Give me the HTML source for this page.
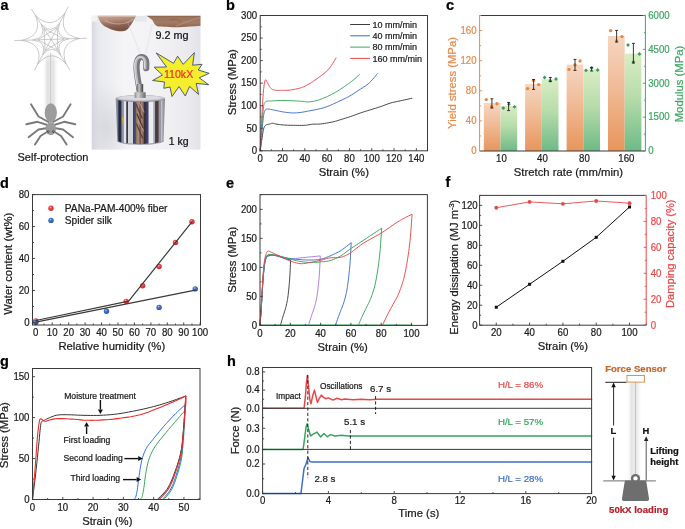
<!DOCTYPE html>
<html><head><meta charset="utf-8"><style>
html,body{margin:0;padding:0;background:#fff;width:685px;height:529px;overflow:hidden;}
text{stroke-width:0.22px;}
svg{display:block;font-family:"Liberation Sans", sans-serif;will-change:transform;}
</style></head><body>
<svg width="685" height="529" viewBox="0 0 685 529" font-family='"Liberation Sans", sans-serif'><defs><linearGradient id="go" x1="0" y1="0" x2="0" y2="1"><stop offset="0" stop-color="#f6d6c1"/><stop offset="0.45" stop-color="#f0bb96"/><stop offset="1" stop-color="#e8955c"/></linearGradient><linearGradient id="gg" x1="0" y1="0" x2="0" y2="1"><stop offset="0" stop-color="#d9edc3"/><stop offset="0.45" stop-color="#b7dcaa"/><stop offset="1" stop-color="#6dba86"/></linearGradient><radialGradient id="rb" cx="0.4" cy="0.35" r="0.7"><stop offset="0" stop-color="#ffb0b0"/><stop offset="0.35" stop-color="#ec4444"/><stop offset="1" stop-color="#c82828"/></radialGradient><radialGradient id="bb" cx="0.4" cy="0.35" r="0.7"><stop offset="0" stop-color="#b0c8f0"/><stop offset="0.35" stop-color="#3f6fc6"/><stop offset="1" stop-color="#2a52a0"/></radialGradient><linearGradient id="silk" x1="0" y1="0" x2="1" y2="0"><stop offset="0" stop-color="#fff" stop-opacity="0"/><stop offset="0.3" stop-color="#e2e2e2"/><stop offset="0.5" stop-color="#e6e6e6"/><stop offset="0.7" stop-color="#e4e4e4"/><stop offset="1" stop-color="#fff" stop-opacity="0"/></linearGradient><linearGradient id="silkv" x1="0" y1="0" x2="0" y2="1"><stop offset="0" stop-color="#fff" stop-opacity="1"/><stop offset="0.18" stop-color="#fff" stop-opacity="0"/><stop offset="1" stop-color="#fff" stop-opacity="0"/></linearGradient><clipPath id="pc"><rect x="91.5" y="15.6" width="109.19999999999999" height="134.20000000000002"/></clipPath><linearGradient id="pbg" x1="0" y1="0" x2="1" y2="0"><stop offset="0" stop-color="#d6d8e0"/><stop offset="0.06" stop-color="#e8e9ee"/><stop offset="0.3" stop-color="#f5f5f7"/><stop offset="0.6" stop-color="#f2f2f5"/><stop offset="0.85" stop-color="#ececf0"/><stop offset="1" stop-color="#e2e3e9"/></linearGradient><radialGradient id="psh" cx="0.25" cy="0.75" r="0.5"><stop offset="0" stop-color="#c8c9d0" stop-opacity="0.55"/><stop offset="1" stop-color="#c8c9d0" stop-opacity="0"/></radialGradient><linearGradient id="fing" x1="0" y1="0" x2="0" y2="1"><stop offset="0" stop-color="#c9b3a4"/><stop offset="0.25" stop-color="#a88878"/><stop offset="0.7" stop-color="#8f6655"/><stop offset="1" stop-color="#7f5646"/></linearGradient><linearGradient id="fing2" x1="0" y1="0" x2="0" y2="1"><stop offset="0" stop-color="#b49080"/><stop offset="0.3" stop-color="#946a52"/><stop offset="1" stop-color="#8a6048"/></linearGradient><linearGradient id="lf" x1="0" y1="0" x2="0.25" y2="1"><stop offset="0" stop-color="#c9a797"/><stop offset="0.35" stop-color="#b48c7c"/><stop offset="0.7" stop-color="#8c6251"/><stop offset="1" stop-color="#7a5242"/></linearGradient><linearGradient id="rf" x1="0" y1="0" x2="0" y2="1"><stop offset="0" stop-color="#86604a"/><stop offset="0.15" stop-color="#9c735c"/><stop offset="0.6" stop-color="#a27b64"/><stop offset="1" stop-color="#8e6650"/></linearGradient><linearGradient id="hk" x1="0" y1="0" x2="1" y2="0"><stop offset="0" stop-color="#5a5a5e"/><stop offset="0.35" stop-color="#c9c9cc"/><stop offset="0.6" stop-color="#8a8a90"/><stop offset="1" stop-color="#3e3e44"/></linearGradient><linearGradient id="nut" x1="0" y1="0" x2="1" y2="0"><stop offset="0" stop-color="#8a8a8e"/><stop offset="0.3" stop-color="#d8d4cc"/><stop offset="0.6" stop-color="#a8a8aa"/><stop offset="1" stop-color="#6a6a70"/></linearGradient><linearGradient id="cyl" x1="0" y1="0" x2="1" y2="0"><stop offset="0" stop-color="#a0a6b8"/><stop offset="0.05" stop-color="#70768c"/><stop offset="0.065" stop-color="#22263a"/><stop offset="0.11" stop-color="#2a2e44"/><stop offset="0.125" stop-color="#8a8a9a"/><stop offset="0.16" stop-color="#9a9aa8"/><stop offset="0.175" stop-color="#e4e4ec"/><stop offset="0.21" stop-color="#e8e8ee"/><stop offset="0.225" stop-color="#323444"/><stop offset="0.245" stop-color="#3a3c4c"/><stop offset="0.26" stop-color="#d4d6de"/><stop offset="0.345" stop-color="#d0d2dc"/><stop offset="0.36" stop-color="#3c4062"/><stop offset="0.4" stop-color="#464a66"/><stop offset="0.42" stop-color="#8a7068"/><stop offset="0.46" stop-color="#b09080"/><stop offset="0.5" stop-color="#6a5048"/><stop offset="0.53" stop-color="#a88878"/><stop offset="0.565" stop-color="#7a5a50"/><stop offset="0.58" stop-color="#3a2a30"/><stop offset="0.61" stop-color="#36344a"/><stop offset="0.62" stop-color="#383e60"/><stop offset="0.66" stop-color="#404666"/><stop offset="0.675" stop-color="#e8e8f0"/><stop offset="0.76" stop-color="#f0f0f4"/><stop offset="0.77" stop-color="#b4b4bc"/><stop offset="0.8" stop-color="#a8a8b4"/><stop offset="0.81" stop-color="#4a3a3c"/><stop offset="0.865" stop-color="#503e40"/><stop offset="0.88" stop-color="#9a9aa4"/><stop offset="0.91" stop-color="#9898a2"/><stop offset="0.93" stop-color="#c0c0c8"/><stop offset="1" stop-color="#7a7a88"/></linearGradient><clipPath id="cb"><path d="M115.6 98.6 L164.9 98.6 L163.6 141 C158 145 122 145 117.4 141 Z"/></clipPath><linearGradient id="rod" x1="0" y1="0" x2="1" y2="0"><stop offset="0" stop-color="#fff" stop-opacity="0"/><stop offset="0.3" stop-color="#e4e4e4"/><stop offset="0.5" stop-color="#eaeaea"/><stop offset="0.7" stop-color="#ececec"/><stop offset="1" stop-color="#fff" stop-opacity="0"/></linearGradient></defs><text x="226" y="10.4" font-size="14.5" text-anchor="start" fill="#000" stroke="#000" font-weight="bold" >b</text>
<polyline points="260.2,150.8 260.38,149.56 260.63,147.84 260.93,145.81 261.25,143.63 261.57,141.48 261.87,139.53 262.15,137.67 262.41,135.77 262.67,133.89 262.95,132.11 263.23,130.5 263.55,129.15 263.87,128.07 264.21,127.21 264.56,126.53 264.93,125.98 265.33,125.51 265.78,125.09 266.27,124.76 266.81,124.56 267.38,124.44 267.97,124.37 268.55,124.3 269.12,124.19 269.67,124.02 270.2,123.82 270.73,123.63 271.27,123.46 271.85,123.33 272.47,123.29 273.11,123.33 273.75,123.46 274.42,123.63 275.15,123.82 275.98,124.02 276.93,124.19 278.02,124.35 279.24,124.52 280.55,124.68 281.93,124.84 283.33,124.98 284.74,125.09 286.13,125.17 287.55,125.23 288.99,125.26 290.48,125.29 292.03,125.3 293.66,125.32 295.43,125.34 297.34,125.38 299.31,125.4 301.26,125.41 303.12,125.39 304.81,125.32 306.31,125.19 307.66,124.99 308.93,124.77 310.14,124.54 311.36,124.34 312.62,124.19 313.87,124.12 315.06,124.12 316.25,124.13 317.5,124.14 318.87,124.1 320.43,123.97 322.27,123.73 324.35,123.43 326.56,123.08 328.77,122.7 330.86,122.31 332.7,121.94 334.23,121.58 335.55,121.23 336.74,120.88 337.9,120.51 339.13,120.11 340.5,119.68 342.05,119.21 343.68,118.71 345.38,118.19 347.11,117.64 348.84,117.09 350.54,116.52 352.22,115.94 353.89,115.34 355.56,114.72 357.23,114.1 358.91,113.5 360.58,112.92 362.25,112.36 363.93,111.83 365.6,111.31 367.27,110.79 368.94,110.28 370.62,109.76 372.29,109.24 373.96,108.72 375.64,108.21 377.31,107.69 378.98,107.15 380.66,106.6 382.33,106.01 384,105.38 385.68,104.74 387.35,104.11 389.02,103.52 390.69,102.99 392.35,102.54 394,102.15 395.64,101.8 397.3,101.46 398.99,101.11 400.73,100.74 402.66,100.31 404.78,99.84 406.94,99.36 408.95,98.91 410.66,98.53 411.89,98.26" fill="none" stroke="#3c3c3c" stroke-width="0.95" stroke-linejoin="round" stroke-linecap="round" />
<polyline points="260.2,150.8 260.38,148.83 260.63,146.09 260.93,142.85 261.25,139.37 261.57,135.92 261.87,132.76 262.15,129.72 262.43,126.55 262.71,123.4 262.99,120.43 263.27,117.79 263.55,115.62 263.82,113.99 264.1,112.79 264.38,111.92 264.66,111.26 264.94,110.73 265.22,110.21 265.48,109.76 265.71,109.47 265.95,109.29 266.21,109.2 266.52,109.14 266.89,109.08 267.33,109.03 267.8,109.02 268.32,109.05 268.9,109.12 269.53,109.2 270.24,109.31 271.01,109.44 271.85,109.6 272.75,109.79 273.71,109.99 274.73,110.21 275.81,110.44 276.97,110.68 278.21,110.95 279.51,111.24 280.85,111.52 282.23,111.78 283.62,112.01 285.06,112.22 286.55,112.41 288.08,112.59 289.61,112.74 291.11,112.85 292.54,112.92 293.9,112.93 295.19,112.91 296.45,112.85 297.71,112.75 299,112.62 300.35,112.47 301.75,112.27 303.16,112.05 304.6,111.79 306.09,111.5 307.65,111.2 309.27,110.89 311.03,110.56 312.91,110.21 314.85,109.84 316.79,109.46 318.67,109.05 320.43,108.63 322.04,108.2 323.57,107.75 325.03,107.28 326.46,106.79 327.89,106.26 329.35,105.7 330.81,105.1 332.24,104.48 333.67,103.83 335.13,103.14 336.66,102.41 338.27,101.64 340,100.84 341.83,100 343.71,99.13 345.63,98.22 347.54,97.25 349.43,96.23 351.31,95.12 353.23,93.92 355.14,92.68 357.03,91.42 358.85,90.18 360.58,89.01 362.21,87.94 363.76,86.94 365.25,85.97 366.69,84.97 368.11,83.9 369.5,82.7 370.96,81.25 372.48,79.56 373.96,77.79 375.33,76.12 376.47,74.69 377.31,73.68" fill="none" stroke="#3d6fc4" stroke-width="0.95" stroke-linejoin="round" stroke-linecap="round" />
<polyline points="260.2,150.8 260.38,148.04 260.63,144.17 260.93,139.61 261.25,134.78 261.57,130.1 261.87,126 262.15,122.28 262.43,118.58 262.71,115.03 262.99,111.76 263.27,108.91 263.55,106.6 263.82,104.95 264.1,103.86 264.38,103.19 264.66,102.78 264.94,102.46 265.22,102.09 265.47,101.73 265.67,101.5 265.88,101.37 266.13,101.31 266.45,101.26 266.89,101.19 267.42,101.12 268.01,101.07 268.67,101.05 269.43,101.03 270.32,101.01 271.35,100.96 272.56,100.89 273.91,100.81 275.4,100.71 276.97,100.62 278.61,100.55 280.28,100.51 282.03,100.51 283.91,100.53 285.85,100.57 287.79,100.62 289.67,100.68 291.43,100.74 293.06,100.8 294.61,100.86 296.1,100.94 297.54,101.01 298.96,101.1 300.35,101.19 301.72,101.31 303.04,101.47 304.33,101.63 305.6,101.77 306.87,101.86 308.16,101.87 309.46,101.8 310.76,101.68 312.06,101.51 313.36,101.3 314.67,101.04 315.97,100.74 317.27,100.39 318.57,99.99 319.87,99.54 321.17,99.06 322.47,98.55 323.77,98.03 325.08,97.49 326.38,96.93 327.68,96.34 328.98,95.73 330.28,95.09 331.58,94.43 332.88,93.74 334.18,93.02 335.49,92.28 336.79,91.52 338.09,90.73 339.39,89.92 340.7,89.06 342.03,88.16 343.36,87.24 344.68,86.31 345.96,85.39 347.2,84.5 348.39,83.65 349.55,82.82 350.68,81.99 351.78,81.18 352.85,80.36 353.89,79.54 354.95,78.66 356.04,77.7 357.09,76.75 358.06,75.87 358.87,75.12 359.46,74.58" fill="none" stroke="#35a55c" stroke-width="0.95" stroke-linejoin="round" stroke-linecap="round" />
<polyline points="260.2,150.8 260.34,147.86 260.54,143.78 260.78,138.96 261.03,133.76 261.29,128.56 261.54,123.74 261.77,119.07 262.01,114.22 262.26,109.36 262.5,104.7 262.75,100.41 262.99,96.68 263.23,93.52 263.48,90.79 263.72,88.44 263.96,86.41 264.2,84.66 264.44,83.15 264.66,81.93 264.88,81.04 265.09,80.43 265.31,80.05 265.54,79.85 265.78,79.77 266.03,79.88 266.29,80.24 266.56,80.77 266.84,81.4 267.13,82.07 267.45,82.7 267.78,83.33 268.13,84.02 268.5,84.74 268.87,85.46 269.27,86.15 269.68,86.76 270.09,87.31 270.51,87.83 270.94,88.31 271.39,88.75 271.9,89.13 272.47,89.46 273.1,89.73 273.79,89.93 274.53,90.08 275.3,90.2 276.1,90.29 276.93,90.37 277.78,90.42 278.66,90.44 279.58,90.44 280.52,90.42 281.5,90.39 282.51,90.37 283.54,90.35 284.61,90.35 285.71,90.34 286.84,90.31 288.01,90.25 289.2,90.14 290.45,89.99 291.76,89.8 293.1,89.58 294.44,89.33 295.76,89.07 297.01,88.79 298.17,88.51 299.28,88.24 300.35,87.96 301.43,87.63 302.53,87.23 303.7,86.76 304.95,86.18 306.26,85.51 307.6,84.78 308.94,84.02 310.26,83.24 311.51,82.47 312.69,81.71 313.82,80.94 314.92,80.15 316.01,79.35 317.09,78.55 318.2,77.74 319.33,76.93 320.47,76.13 321.61,75.33 322.74,74.51 323.84,73.66 324.89,72.78 325.88,71.89 326.83,71.01 327.75,70.1 328.65,69.14 329.55,68.08 330.47,66.91 331.46,65.49 332.53,63.81 333.6,62.04 334.6,60.35 335.44,58.91 336.04,57.89" fill="none" stroke="#e8474a" stroke-width="0.95" stroke-linejoin="round" stroke-linecap="round" />
<rect x="260.2" y="15.5" width="167.3" height="135.3" fill="none" stroke="#3a3a3a" stroke-width="1"/>
<line x1="271.35" y1="150.8" x2="271.35" y2="149.3" stroke="#3a3a3a" stroke-width="0.9" />
<line x1="293.66" y1="150.8" x2="293.66" y2="149.3" stroke="#3a3a3a" stroke-width="0.9" />
<line x1="315.97" y1="150.8" x2="315.97" y2="149.3" stroke="#3a3a3a" stroke-width="0.9" />
<line x1="338.27" y1="150.8" x2="338.27" y2="149.3" stroke="#3a3a3a" stroke-width="0.9" />
<line x1="360.58" y1="150.8" x2="360.58" y2="149.3" stroke="#3a3a3a" stroke-width="0.9" />
<line x1="382.89" y1="150.8" x2="382.89" y2="149.3" stroke="#3a3a3a" stroke-width="0.9" />
<line x1="405.19" y1="150.8" x2="405.19" y2="149.3" stroke="#3a3a3a" stroke-width="0.9" />
<line x1="427.5" y1="150.8" x2="427.5" y2="149.3" stroke="#3a3a3a" stroke-width="0.9" />
<line x1="260.2" y1="150.8" x2="260.2" y2="148.2" stroke="#3a3a3a" stroke-width="0.9" />
<text transform="translate(260.2 161.9) scale(0.92 1)" font-size="10.5" text-anchor="middle" fill="#1a1a1a" stroke="#1a1a1a" font-weight="normal" >0</text>
<line x1="282.51" y1="150.8" x2="282.51" y2="148.2" stroke="#3a3a3a" stroke-width="0.9" />
<text transform="translate(282.51 161.9) scale(0.92 1)" font-size="10.5" text-anchor="middle" fill="#1a1a1a" stroke="#1a1a1a" font-weight="normal" >20</text>
<line x1="304.81" y1="150.8" x2="304.81" y2="148.2" stroke="#3a3a3a" stroke-width="0.9" />
<text transform="translate(304.81 161.9) scale(0.92 1)" font-size="10.5" text-anchor="middle" fill="#1a1a1a" stroke="#1a1a1a" font-weight="normal" >40</text>
<line x1="327.12" y1="150.8" x2="327.12" y2="148.2" stroke="#3a3a3a" stroke-width="0.9" />
<text transform="translate(327.12 161.9) scale(0.92 1)" font-size="10.5" text-anchor="middle" fill="#1a1a1a" stroke="#1a1a1a" font-weight="normal" >60</text>
<line x1="349.43" y1="150.8" x2="349.43" y2="148.2" stroke="#3a3a3a" stroke-width="0.9" />
<text transform="translate(349.43 161.9) scale(0.92 1)" font-size="10.5" text-anchor="middle" fill="#1a1a1a" stroke="#1a1a1a" font-weight="normal" >80</text>
<line x1="371.73" y1="150.8" x2="371.73" y2="148.2" stroke="#3a3a3a" stroke-width="0.9" />
<text transform="translate(371.73 161.9) scale(0.92 1)" font-size="10.5" text-anchor="middle" fill="#1a1a1a" stroke="#1a1a1a" font-weight="normal" >100</text>
<line x1="394.04" y1="150.8" x2="394.04" y2="148.2" stroke="#3a3a3a" stroke-width="0.9" />
<text transform="translate(394.04 161.9) scale(0.92 1)" font-size="10.5" text-anchor="middle" fill="#1a1a1a" stroke="#1a1a1a" font-weight="normal" >120</text>
<line x1="416.35" y1="150.8" x2="416.35" y2="148.2" stroke="#3a3a3a" stroke-width="0.9" />
<text transform="translate(416.35 161.9) scale(0.92 1)" font-size="10.5" text-anchor="middle" fill="#1a1a1a" stroke="#1a1a1a" font-weight="normal" >140</text>
<line x1="260.2" y1="139.53" x2="261.7" y2="139.53" stroke="#3a3a3a" stroke-width="0.9" />
<line x1="260.2" y1="116.98" x2="261.7" y2="116.98" stroke="#3a3a3a" stroke-width="0.9" />
<line x1="260.2" y1="94.43" x2="261.7" y2="94.43" stroke="#3a3a3a" stroke-width="0.9" />
<line x1="260.2" y1="71.88" x2="261.7" y2="71.88" stroke="#3a3a3a" stroke-width="0.9" />
<line x1="260.2" y1="49.33" x2="261.7" y2="49.33" stroke="#3a3a3a" stroke-width="0.9" />
<line x1="260.2" y1="26.78" x2="261.7" y2="26.78" stroke="#3a3a3a" stroke-width="0.9" />
<line x1="260.2" y1="150.8" x2="262.8" y2="150.8" stroke="#3a3a3a" stroke-width="0.9" />
<text transform="translate(257.2 154.1) scale(0.92 1)" font-size="10.5" text-anchor="end" fill="#1a1a1a" stroke="#1a1a1a" font-weight="normal" >0</text>
<line x1="260.2" y1="128.25" x2="262.8" y2="128.25" stroke="#3a3a3a" stroke-width="0.9" />
<text transform="translate(257.2 131.55) scale(0.92 1)" font-size="10.5" text-anchor="end" fill="#1a1a1a" stroke="#1a1a1a" font-weight="normal" >50</text>
<line x1="260.2" y1="105.7" x2="262.8" y2="105.7" stroke="#3a3a3a" stroke-width="0.9" />
<text transform="translate(257.2 109) scale(0.92 1)" font-size="10.5" text-anchor="end" fill="#1a1a1a" stroke="#1a1a1a" font-weight="normal" >100</text>
<line x1="260.2" y1="83.15" x2="262.8" y2="83.15" stroke="#3a3a3a" stroke-width="0.9" />
<text transform="translate(257.2 86.45) scale(0.92 1)" font-size="10.5" text-anchor="end" fill="#1a1a1a" stroke="#1a1a1a" font-weight="normal" >150</text>
<line x1="260.2" y1="60.6" x2="262.8" y2="60.6" stroke="#3a3a3a" stroke-width="0.9" />
<text transform="translate(257.2 63.9) scale(0.92 1)" font-size="10.5" text-anchor="end" fill="#1a1a1a" stroke="#1a1a1a" font-weight="normal" >200</text>
<line x1="260.2" y1="38.05" x2="262.8" y2="38.05" stroke="#3a3a3a" stroke-width="0.9" />
<text transform="translate(257.2 41.35) scale(0.92 1)" font-size="10.5" text-anchor="end" fill="#1a1a1a" stroke="#1a1a1a" font-weight="normal" >250</text>
<line x1="260.2" y1="15.5" x2="262.8" y2="15.5" stroke="#3a3a3a" stroke-width="0.9" />
<text transform="translate(257.2 18.8) scale(0.92 1)" font-size="10.5" text-anchor="end" fill="#1a1a1a" stroke="#1a1a1a" font-weight="normal" >300</text>
<text x="343.8" y="176" font-size="11.3" text-anchor="middle" fill="#1a1a1a" stroke="#1a1a1a" font-weight="normal" >Strain (%)</text>
<text transform="translate(235.7 82.2) rotate(-90)" x="0" y="0" font-size="11.3" text-anchor="middle" fill="#1a1a1a" stroke="#1a1a1a" >Stress (MPa)</text>
<line x1="350.2" y1="24.5" x2="370" y2="24.5" stroke="#3c3c3c" stroke-width="1" />
<text x="372.6" y="27.8" font-size="9" text-anchor="start" fill="#1a1a1a" stroke="#1a1a1a" font-weight="normal" >10 mm/min</text>
<line x1="350.2" y1="35.8" x2="370" y2="35.8" stroke="#3d6fc4" stroke-width="1" />
<text x="372.6" y="39.1" font-size="9" text-anchor="start" fill="#1a1a1a" stroke="#1a1a1a" font-weight="normal" >40 mm/min</text>
<line x1="350.2" y1="47.1" x2="370" y2="47.1" stroke="#35a55c" stroke-width="1" />
<text x="372.6" y="50.4" font-size="9" text-anchor="start" fill="#1a1a1a" stroke="#1a1a1a" font-weight="normal" >80 mm/min</text>
<line x1="350.2" y1="58.4" x2="370" y2="58.4" stroke="#e8474a" stroke-width="1" />
<text x="372.6" y="61.7" font-size="9" text-anchor="start" fill="#1a1a1a" stroke="#1a1a1a" font-weight="normal" >160 mm/min</text>
<text x="446" y="10.4" font-size="14.5" text-anchor="start" fill="#000" stroke="#000" font-weight="bold" >c</text>
<rect x="483.8" y="103" width="16.7" height="48" fill="url(#go)"/>
<rect x="500.5" y="106" width="16.7" height="45" fill="url(#gg)"/>
<rect x="525.1" y="84.1" width="16.7" height="66.9" fill="url(#go)"/>
<rect x="541.8" y="79.2" width="16.7" height="71.8" fill="url(#gg)"/>
<rect x="566.6" y="64.6" width="16.7" height="86.4" fill="url(#go)"/>
<rect x="583.3" y="69.4" width="16.7" height="81.6" fill="url(#gg)"/>
<rect x="608" y="36" width="16.7" height="115" fill="url(#go)"/>
<rect x="624.7" y="53.6" width="16.7" height="97.4" fill="url(#gg)"/>
<circle cx="486.3" cy="99.6" r="1.7" fill="#e8883f"/>
<circle cx="497" cy="103.7" r="1.7" fill="#e8883f"/>
<circle cx="491.6" cy="106.8" r="1.7" fill="#e8883f"/>
<path d="M503.3 106.2l1.9 1.9l-1.9 1.9l-1.9 -1.9z" fill="#3c9a5c"/>
<path d="M514.5 104.9l1.9 1.9l-1.9 1.9l-1.9 -1.9z" fill="#3c9a5c"/>
<path d="M508.9 102.3l1.9 1.9l-1.9 1.9l-1.9 -1.9z" fill="#3c9a5c"/>
<line x1="491.9" y1="98.8" x2="491.9" y2="108" stroke="#222" stroke-width="0.9" />
<line x1="490.4" y1="98.8" x2="493.4" y2="98.8" stroke="#222" stroke-width="0.9" />
<line x1="490.4" y1="108" x2="493.4" y2="108" stroke="#222" stroke-width="0.9" />
<line x1="508.6" y1="102.4" x2="508.6" y2="110.6" stroke="#222" stroke-width="0.9" />
<line x1="507.1" y1="102.4" x2="510.1" y2="102.4" stroke="#222" stroke-width="0.9" />
<line x1="507.1" y1="110.6" x2="510.1" y2="110.6" stroke="#222" stroke-width="0.9" />
<circle cx="527.6" cy="88.6" r="1.7" fill="#e8883f"/>
<circle cx="538.7" cy="84.6" r="1.7" fill="#e8883f"/>
<circle cx="533.6" cy="80.4" r="1.7" fill="#e8883f"/>
<path d="M544.6 75.6l1.9 1.9l-1.9 1.9l-1.9 -1.9z" fill="#3c9a5c"/>
<path d="M556 77.1l1.9 1.9l-1.9 1.9l-1.9 -1.9z" fill="#3c9a5c"/>
<path d="M550.3 78.8l1.9 1.9l-1.9 1.9l-1.9 -1.9z" fill="#3c9a5c"/>
<line x1="533.6" y1="79.5" x2="533.6" y2="89.4" stroke="#222" stroke-width="0.9" />
<line x1="532.1" y1="79.5" x2="535.1" y2="79.5" stroke="#222" stroke-width="0.9" />
<line x1="532.1" y1="89.4" x2="535.1" y2="89.4" stroke="#222" stroke-width="0.9" />
<line x1="550.3" y1="77.5" x2="550.3" y2="81.6" stroke="#222" stroke-width="0.9" />
<line x1="548.8" y1="77.5" x2="551.8" y2="77.5" stroke="#222" stroke-width="0.9" />
<line x1="548.8" y1="81.6" x2="551.8" y2="81.6" stroke="#222" stroke-width="0.9" />
<circle cx="569" cy="69.4" r="1.7" fill="#e8883f"/>
<circle cx="580" cy="61" r="1.7" fill="#e8883f"/>
<circle cx="575" cy="65" r="1.7" fill="#e8883f"/>
<path d="M586 68.5l1.9 1.9l-1.9 1.9l-1.9 -1.9z" fill="#3c9a5c"/>
<path d="M597.6 68.1l1.9 1.9l-1.9 1.9l-1.9 -1.9z" fill="#3c9a5c"/>
<path d="M591.6 66.1l1.9 1.9l-1.9 1.9l-1.9 -1.9z" fill="#3c9a5c"/>
<line x1="575" y1="59.4" x2="575" y2="70.4" stroke="#222" stroke-width="0.9" />
<line x1="573.5" y1="59.4" x2="576.5" y2="59.4" stroke="#222" stroke-width="0.9" />
<line x1="573.5" y1="70.4" x2="576.5" y2="70.4" stroke="#222" stroke-width="0.9" />
<line x1="591.6" y1="67.4" x2="591.6" y2="71" stroke="#222" stroke-width="0.9" />
<line x1="590.1" y1="67.4" x2="593.1" y2="67.4" stroke="#222" stroke-width="0.9" />
<line x1="590.1" y1="71" x2="593.1" y2="71" stroke="#222" stroke-width="0.9" />
<circle cx="610.6" cy="30.6" r="1.7" fill="#e8883f"/>
<circle cx="622" cy="36.6" r="1.7" fill="#e8883f"/>
<circle cx="616.6" cy="41" r="1.7" fill="#e8883f"/>
<path d="M628 43.1l1.9 1.9l-1.9 1.9l-1.9 -1.9z" fill="#3c9a5c"/>
<path d="M639.4 52.1l1.9 1.9l-1.9 1.9l-1.9 -1.9z" fill="#3c9a5c"/>
<path d="M633.4 60.1l1.9 1.9l-1.9 1.9l-1.9 -1.9z" fill="#3c9a5c"/>
<line x1="616.6" y1="30.4" x2="616.6" y2="42" stroke="#222" stroke-width="0.9" />
<line x1="615.1" y1="30.4" x2="618.1" y2="30.4" stroke="#222" stroke-width="0.9" />
<line x1="615.1" y1="42" x2="618.1" y2="42" stroke="#222" stroke-width="0.9" />
<line x1="633.4" y1="43.4" x2="633.4" y2="63" stroke="#222" stroke-width="0.9" />
<line x1="631.9" y1="43.4" x2="634.9" y2="43.4" stroke="#222" stroke-width="0.9" />
<line x1="631.9" y1="63" x2="634.9" y2="63" stroke="#222" stroke-width="0.9" />
<line x1="479.6" y1="15.5" x2="645.4" y2="15.5" stroke="#3a3a3a" stroke-width="1" />
<line x1="479.6" y1="151" x2="645.4" y2="151" stroke="#3a3a3a" stroke-width="1" />
<line x1="479.6" y1="15.5" x2="479.6" y2="151" stroke="#e58a4c" stroke-width="1" />
<line x1="645.4" y1="15.5" x2="645.4" y2="151" stroke="#3fa563" stroke-width="1" />
<line x1="479.6" y1="135.94" x2="481.1" y2="135.94" stroke="#e58a4c" stroke-width="0.9" />
<line x1="479.6" y1="105.83" x2="481.1" y2="105.83" stroke="#e58a4c" stroke-width="0.9" />
<line x1="479.6" y1="75.72" x2="481.1" y2="75.72" stroke="#e58a4c" stroke-width="0.9" />
<line x1="479.6" y1="45.61" x2="481.1" y2="45.61" stroke="#e58a4c" stroke-width="0.9" />
<line x1="479.6" y1="15.5" x2="481.1" y2="15.5" stroke="#e58a4c" stroke-width="0.9" />
<line x1="479.6" y1="151" x2="482.2" y2="151" stroke="#e58a4c" stroke-width="0.9" />
<text transform="translate(476.6 154.3) scale(0.92 1)" font-size="10.5" text-anchor="end" fill="#e58a4c" stroke="#e58a4c" font-weight="normal" >0</text>
<line x1="479.6" y1="120.89" x2="482.2" y2="120.89" stroke="#e58a4c" stroke-width="0.9" />
<text transform="translate(476.6 124.19) scale(0.92 1)" font-size="10.5" text-anchor="end" fill="#e58a4c" stroke="#e58a4c" font-weight="normal" >40</text>
<line x1="479.6" y1="90.78" x2="482.2" y2="90.78" stroke="#e58a4c" stroke-width="0.9" />
<text transform="translate(476.6 94.08) scale(0.92 1)" font-size="10.5" text-anchor="end" fill="#e58a4c" stroke="#e58a4c" font-weight="normal" >80</text>
<line x1="479.6" y1="60.67" x2="482.2" y2="60.67" stroke="#e58a4c" stroke-width="0.9" />
<text transform="translate(476.6 63.97) scale(0.92 1)" font-size="10.5" text-anchor="end" fill="#e58a4c" stroke="#e58a4c" font-weight="normal" >120</text>
<line x1="479.6" y1="30.56" x2="482.2" y2="30.56" stroke="#e58a4c" stroke-width="0.9" />
<text transform="translate(476.6 33.86) scale(0.92 1)" font-size="10.5" text-anchor="end" fill="#e58a4c" stroke="#e58a4c" font-weight="normal" >160</text>
<line x1="645.4" y1="134.06" x2="643.9" y2="134.06" stroke="#3fa563" stroke-width="0.9" />
<line x1="645.4" y1="100.19" x2="643.9" y2="100.19" stroke="#3fa563" stroke-width="0.9" />
<line x1="645.4" y1="66.31" x2="643.9" y2="66.31" stroke="#3fa563" stroke-width="0.9" />
<line x1="645.4" y1="32.44" x2="643.9" y2="32.44" stroke="#3fa563" stroke-width="0.9" />
<line x1="645.4" y1="151" x2="642.8" y2="151" stroke="#3fa563" stroke-width="0.9" />
<text transform="translate(648.2 154.3) scale(0.92 1)" font-size="10.5" text-anchor="start" fill="#3fa563" stroke="#3fa563" font-weight="normal" >0</text>
<line x1="645.4" y1="117.12" x2="642.8" y2="117.12" stroke="#3fa563" stroke-width="0.9" />
<text transform="translate(648.2 120.42) scale(0.92 1)" font-size="10.5" text-anchor="start" fill="#3fa563" stroke="#3fa563" font-weight="normal" >1500</text>
<line x1="645.4" y1="83.25" x2="642.8" y2="83.25" stroke="#3fa563" stroke-width="0.9" />
<text transform="translate(648.2 86.55) scale(0.92 1)" font-size="10.5" text-anchor="start" fill="#3fa563" stroke="#3fa563" font-weight="normal" >3000</text>
<line x1="645.4" y1="49.38" x2="642.8" y2="49.38" stroke="#3fa563" stroke-width="0.9" />
<text transform="translate(648.2 52.67) scale(0.92 1)" font-size="10.5" text-anchor="start" fill="#3fa563" stroke="#3fa563" font-weight="normal" >4500</text>
<line x1="645.4" y1="15.5" x2="642.8" y2="15.5" stroke="#3fa563" stroke-width="0.9" />
<text transform="translate(648.2 18.8) scale(0.92 1)" font-size="10.5" text-anchor="start" fill="#3fa563" stroke="#3fa563" font-weight="normal" >6000</text>
<text transform="translate(501.4 162) scale(0.92 1)" font-size="10.5" text-anchor="middle" fill="#1a1a1a" stroke="#1a1a1a" font-weight="normal" >10</text>
<text transform="translate(542.4 162) scale(0.92 1)" font-size="10.5" text-anchor="middle" fill="#1a1a1a" stroke="#1a1a1a" font-weight="normal" >40</text>
<text transform="translate(584.4 162) scale(0.92 1)" font-size="10.5" text-anchor="middle" fill="#1a1a1a" stroke="#1a1a1a" font-weight="normal" >80</text>
<text transform="translate(626.4 162) scale(0.92 1)" font-size="10.5" text-anchor="middle" fill="#1a1a1a" stroke="#1a1a1a" font-weight="normal" >160</text>
<text x="568.4" y="175.6" font-size="11.3" text-anchor="middle" fill="#1a1a1a" stroke="#1a1a1a" font-weight="normal" >Stretch rate (mm/min)</text>
<text transform="translate(455.6 83) rotate(-90)" x="0" y="0" font-size="11.3" text-anchor="middle" fill="#e58a4c" stroke="#e58a4c" >Yield stress (MPa)</text>
<text transform="translate(682.6 84) rotate(-90)" font-size="11.3" text-anchor="middle" fill="#3fa563" stroke="#3fa563">Modulus (MPa)</text>
<text x="0" y="187.6" font-size="14.5" text-anchor="start" fill="#000" stroke="#000" font-weight="bold" >d</text>
<circle cx="35.79" cy="320.85" r="2.7" fill="url(#rb)"/>
<circle cx="126.2" cy="301.35" r="2.7" fill="url(#rb)"/>
<circle cx="142.64" cy="285.69" r="2.7" fill="url(#rb)"/>
<circle cx="159.08" cy="266.51" r="2.7" fill="url(#rb)"/>
<circle cx="175.51" cy="242.54" r="2.7" fill="url(#rb)"/>
<circle cx="191.95" cy="221.77" r="2.7" fill="url(#rb)"/>
<circle cx="35.79" cy="322.44" r="2.7" fill="url(#bb)"/>
<circle cx="106.47" cy="311.26" r="2.7" fill="url(#bb)"/>
<circle cx="159.08" cy="307.42" r="2.7" fill="url(#bb)"/>
<circle cx="195.24" cy="288.88" r="2.7" fill="url(#bb)"/>
<polyline points="35.79,320.53 128.66,301.19 191.95,221.77" fill="none" stroke="#3a3a3a" stroke-width="1.2" stroke-linejoin="round" stroke-linecap="round" />
<polyline points="35.79,322.12 195.24,290.16" fill="none" stroke="#3a3a3a" stroke-width="1.2" stroke-linejoin="round" stroke-linecap="round" />
<circle cx="51" cy="208.2" r="2.7" fill="url(#rb)"/>
<circle cx="51" cy="220.4" r="2.7" fill="url(#bb)"/>
<text x="64.8" y="211.8" font-size="10.2" text-anchor="start" fill="#1a1a1a" stroke="#1a1a1a" font-weight="normal" >PANa-PAM-400% fiber</text>
<text x="64.8" y="224.2" font-size="10.2" text-anchor="start" fill="#1a1a1a" stroke="#1a1a1a" font-weight="normal" >Spider silk</text>
<rect x="32.5" y="194.6" width="168" height="130.4" fill="none" stroke="#3a3a3a" stroke-width="1"/>
<line x1="44.01" y1="325" x2="44.01" y2="323.5" stroke="#3a3a3a" stroke-width="0.9" />
<line x1="60.45" y1="325" x2="60.45" y2="323.5" stroke="#3a3a3a" stroke-width="0.9" />
<line x1="76.88" y1="325" x2="76.88" y2="323.5" stroke="#3a3a3a" stroke-width="0.9" />
<line x1="93.32" y1="325" x2="93.32" y2="323.5" stroke="#3a3a3a" stroke-width="0.9" />
<line x1="109.76" y1="325" x2="109.76" y2="323.5" stroke="#3a3a3a" stroke-width="0.9" />
<line x1="126.2" y1="325" x2="126.2" y2="323.5" stroke="#3a3a3a" stroke-width="0.9" />
<line x1="142.64" y1="325" x2="142.64" y2="323.5" stroke="#3a3a3a" stroke-width="0.9" />
<line x1="159.08" y1="325" x2="159.08" y2="323.5" stroke="#3a3a3a" stroke-width="0.9" />
<line x1="175.51" y1="325" x2="175.51" y2="323.5" stroke="#3a3a3a" stroke-width="0.9" />
<line x1="191.95" y1="325" x2="191.95" y2="323.5" stroke="#3a3a3a" stroke-width="0.9" />
<line x1="35.79" y1="325" x2="35.79" y2="322.4" stroke="#3a3a3a" stroke-width="0.9" />
<text transform="translate(35.79 336.1) scale(0.92 1)" font-size="10.5" text-anchor="middle" fill="#1a1a1a" stroke="#1a1a1a" font-weight="normal" >0</text>
<line x1="52.23" y1="325" x2="52.23" y2="322.4" stroke="#3a3a3a" stroke-width="0.9" />
<text transform="translate(52.23 336.1) scale(0.92 1)" font-size="10.5" text-anchor="middle" fill="#1a1a1a" stroke="#1a1a1a" font-weight="normal" >10</text>
<line x1="68.66" y1="325" x2="68.66" y2="322.4" stroke="#3a3a3a" stroke-width="0.9" />
<text transform="translate(68.66 336.1) scale(0.92 1)" font-size="10.5" text-anchor="middle" fill="#1a1a1a" stroke="#1a1a1a" font-weight="normal" >20</text>
<line x1="85.1" y1="325" x2="85.1" y2="322.4" stroke="#3a3a3a" stroke-width="0.9" />
<text transform="translate(85.1 336.1) scale(0.92 1)" font-size="10.5" text-anchor="middle" fill="#1a1a1a" stroke="#1a1a1a" font-weight="normal" >30</text>
<line x1="101.54" y1="325" x2="101.54" y2="322.4" stroke="#3a3a3a" stroke-width="0.9" />
<text transform="translate(101.54 336.1) scale(0.92 1)" font-size="10.5" text-anchor="middle" fill="#1a1a1a" stroke="#1a1a1a" font-weight="normal" >40</text>
<line x1="117.98" y1="325" x2="117.98" y2="322.4" stroke="#3a3a3a" stroke-width="0.9" />
<text transform="translate(117.98 336.1) scale(0.92 1)" font-size="10.5" text-anchor="middle" fill="#1a1a1a" stroke="#1a1a1a" font-weight="normal" >50</text>
<line x1="134.42" y1="325" x2="134.42" y2="322.4" stroke="#3a3a3a" stroke-width="0.9" />
<text transform="translate(134.42 336.1) scale(0.92 1)" font-size="10.5" text-anchor="middle" fill="#1a1a1a" stroke="#1a1a1a" font-weight="normal" >60</text>
<line x1="150.86" y1="325" x2="150.86" y2="322.4" stroke="#3a3a3a" stroke-width="0.9" />
<text transform="translate(150.86 336.1) scale(0.92 1)" font-size="10.5" text-anchor="middle" fill="#1a1a1a" stroke="#1a1a1a" font-weight="normal" >70</text>
<line x1="167.29" y1="325" x2="167.29" y2="322.4" stroke="#3a3a3a" stroke-width="0.9" />
<text transform="translate(167.29 336.1) scale(0.92 1)" font-size="10.5" text-anchor="middle" fill="#1a1a1a" stroke="#1a1a1a" font-weight="normal" >80</text>
<line x1="183.73" y1="325" x2="183.73" y2="322.4" stroke="#3a3a3a" stroke-width="0.9" />
<text transform="translate(183.73 336.1) scale(0.92 1)" font-size="10.5" text-anchor="middle" fill="#1a1a1a" stroke="#1a1a1a" font-weight="normal" >90</text>
<line x1="200.17" y1="325" x2="200.17" y2="322.4" stroke="#3a3a3a" stroke-width="0.9" />
<text transform="translate(200.17 336.1) scale(0.92 1)" font-size="10.5" text-anchor="middle" fill="#1a1a1a" stroke="#1a1a1a" font-weight="normal" >100</text>
<line x1="32.5" y1="306.46" x2="34" y2="306.46" stroke="#3a3a3a" stroke-width="0.9" />
<line x1="32.5" y1="274.5" x2="34" y2="274.5" stroke="#3a3a3a" stroke-width="0.9" />
<line x1="32.5" y1="242.54" x2="34" y2="242.54" stroke="#3a3a3a" stroke-width="0.9" />
<line x1="32.5" y1="210.58" x2="34" y2="210.58" stroke="#3a3a3a" stroke-width="0.9" />
<line x1="32.5" y1="322.44" x2="35.1" y2="322.44" stroke="#3a3a3a" stroke-width="0.9" />
<text transform="translate(29.5 325.74) scale(0.92 1)" font-size="10.5" text-anchor="end" fill="#1a1a1a" stroke="#1a1a1a" font-weight="normal" >0</text>
<line x1="32.5" y1="290.48" x2="35.1" y2="290.48" stroke="#3a3a3a" stroke-width="0.9" />
<text transform="translate(29.5 293.78) scale(0.92 1)" font-size="10.5" text-anchor="end" fill="#1a1a1a" stroke="#1a1a1a" font-weight="normal" >20</text>
<line x1="32.5" y1="258.52" x2="35.1" y2="258.52" stroke="#3a3a3a" stroke-width="0.9" />
<text transform="translate(29.5 261.82) scale(0.92 1)" font-size="10.5" text-anchor="end" fill="#1a1a1a" stroke="#1a1a1a" font-weight="normal" >40</text>
<line x1="32.5" y1="226.56" x2="35.1" y2="226.56" stroke="#3a3a3a" stroke-width="0.9" />
<text transform="translate(29.5 229.86) scale(0.92 1)" font-size="10.5" text-anchor="end" fill="#1a1a1a" stroke="#1a1a1a" font-weight="normal" >60</text>
<line x1="32.5" y1="194.6" x2="35.1" y2="194.6" stroke="#3a3a3a" stroke-width="0.9" />
<text transform="translate(29.5 197.9) scale(0.92 1)" font-size="10.5" text-anchor="end" fill="#1a1a1a" stroke="#1a1a1a" font-weight="normal" >80</text>
<text x="111.8" y="350.2" font-size="11.3" text-anchor="middle" fill="#1a1a1a" stroke="#1a1a1a" font-weight="normal" >Relative humidity (%)</text>
<text transform="translate(12.3 263.7) rotate(-90)" x="0" y="0" font-size="11.3" text-anchor="middle" fill="#1a1a1a" stroke="#1a1a1a" >Water content (wt%)</text>
<text x="226" y="188" font-size="14.5" text-anchor="start" fill="#000" stroke="#000" font-weight="bold" >e</text>
<line x1="260" y1="325.1" x2="412.4" y2="325.1" stroke="#35a55c" stroke-width="1.2" />
<polyline points="260,325.4 260.16,323.03 260.39,319.77 260.66,315.9 260.95,311.69 261.24,307.42 261.51,303.36 261.77,299.32 262.02,295.07 262.27,290.74 262.52,286.52 262.78,282.55 263.03,279 263.28,275.85 263.53,272.96 263.79,270.33 264.04,267.95 264.29,265.82 264.54,263.92 264.8,262.3 265.05,260.98 265.3,259.91 265.55,259.02 265.81,258.25 266.06,257.53 266.28,256.93 266.45,256.48 266.63,256.16 266.85,255.91 267.15,255.71 267.57,255.5 268.14,255.3 268.81,255.13 269.56,255 270.38,254.91 271.24,254.89 272.12,254.92 273.04,255.04 274.03,255.24 275.05,255.49 276.1,255.77 277.15,256.08 278.18,256.37 279.19,256.69 280.19,257.03 281.19,257.39 282.2,257.75 283.21,258.09 284.24,258.4 285.36,258.7 286.57,258.98 287.8,259.26 288.94,259.5 289.91,259.7 290.6,259.85 290.52,261.78 290.41,264.54 290.27,267.71 290.13,270.88 289.99,273.62 289.86,275.88 289.73,277.94 289.59,279.89 289.45,281.8 289.28,283.78 289.1,285.86 288.9,288 288.69,290.11 288.47,292.12 288.27,293.94 288.07,295.52 287.89,296.93 287.69,298.23 287.49,299.5 287.25,300.82 286.98,302.22 286.68,303.65 286.37,305.07 286.05,306.43 285.73,307.7 285.42,308.84 285.11,309.86 284.79,310.83 284.46,311.84 284.11,312.95 283.72,314.18 283.3,315.51 282.88,316.86 282.46,318.21 282.08,319.5 281.7,320.82 281.32,322.19 280.96,323.5 280.67,324.61 280.45,325.4" fill="none" stroke="#3c3c3c" stroke-width="0.95" stroke-linejoin="round" stroke-linecap="round" />
<polyline points="260,325.4 260.16,323.03 260.39,319.77 260.66,315.9 260.95,311.69 261.24,307.42 261.51,303.36 261.77,299.32 262.02,295.07 262.27,290.74 262.52,286.52 262.78,282.55 263.03,279 263.28,275.84 263.53,272.94 263.79,270.3 264.04,267.91 264.29,265.78 264.54,263.92 264.79,262.37 265.02,261.17 265.25,260.22 265.5,259.45 265.76,258.77 266.06,258.11 266.36,257.51 266.65,257.02 266.96,256.63 267.32,256.31 267.77,256.04 268.33,255.79 269.01,255.57 269.79,255.39 270.65,255.25 271.59,255.17 272.58,255.16 273.63,255.21 274.75,255.37 275.93,255.61 277.19,255.92 278.49,256.27 279.83,256.62 281.21,256.95 282.62,257.31 284.07,257.73 285.56,258.15 287.1,258.53 288.68,258.83 290.3,258.98 292,258.97 293.78,258.82 295.6,258.59 297.42,258.31 299.21,258.04 300.9,257.82 302.49,257.67 304,257.52 305.47,257.38 306.93,257.25 308.43,257.11 309.99,256.95 311.76,256.78 313.72,256.58 315.71,256.38 317.58,256.19 319.16,256.03 320.29,255.91 320.2,257.96 320.07,260.88 319.91,264.24 319.75,267.6 319.59,270.5 319.43,272.9 319.28,275.09 319.12,277.15 318.95,279.18 318.76,281.27 318.54,283.48 318.31,285.75 318.07,287.99 317.82,290.11 317.58,292.05 317.35,293.73 317.13,295.21 316.91,296.59 316.67,297.94 316.39,299.34 316.08,300.83 315.73,302.34 315.37,303.84 314.99,305.29 314.62,306.64 314.26,307.84 313.9,308.92 313.53,309.96 313.14,311.02 312.73,312.2 312.28,313.51 311.8,314.91 311.3,316.35 310.82,317.78 310.37,319.15 309.93,320.54 309.49,322 309.08,323.38 308.73,324.56 308.48,325.4" fill="none" stroke="#a978d6" stroke-width="0.95" stroke-linejoin="round" stroke-linecap="round" />
<polyline points="260,325.4 260.16,323.17 260.39,320.12 260.66,316.48 260.95,312.51 261.24,308.44 261.51,304.52 261.77,300.55 262.02,296.31 262.27,291.97 262.52,287.72 262.78,283.72 263.03,280.16 263.28,277.01 263.53,274.12 263.79,271.49 264.04,269.11 264.29,266.98 264.54,265.08 264.79,263.47 265.02,262.17 265.25,261.11 265.5,260.22 265.76,259.44 266.06,258.69 266.34,258.01 266.59,257.46 266.86,257.01 267.21,256.64 267.68,256.32 268.33,256.03 269.14,255.74 270.07,255.48 271.13,255.27 272.32,255.14 273.65,255.11 275.15,255.21 276.86,255.5 278.77,255.96 280.84,256.52 282.99,257.12 285.15,257.67 287.27,258.11 289.39,258.45 291.57,258.74 293.76,258.99 295.93,259.21 298.02,259.4 299.99,259.56 301.81,259.71 303.51,259.84 305.13,259.93 306.72,260 308.32,260.03 309.99,260.03 311.74,260 313.53,259.96 315.33,259.89 317.13,259.76 318.89,259.56 320.6,259.27 322.22,258.89 323.77,258.43 325.29,257.9 326.81,257.31 328.37,256.66 329.99,255.97 331.69,255.23 333.43,254.46 335.22,253.62 337.01,252.72 338.81,251.75 340.59,250.69 342.48,249.42 344.52,247.93 346.56,246.36 348.45,244.86 350.05,243.59 351.2,242.69 351.07,245.12 350.9,248.6 350.69,252.6 350.47,256.59 350.25,260.06 350.05,262.91 349.85,265.51 349.63,267.97 349.4,270.39 349.15,272.88 348.87,275.51 348.55,278.2 348.23,280.87 347.9,283.4 347.58,285.7 347.27,287.7 346.98,289.47 346.69,291.11 346.37,292.71 346,294.38 345.58,296.15 345.12,297.96 344.63,299.74 344.13,301.46 343.64,303.07 343.15,304.5 342.67,305.78 342.18,307.02 341.66,308.29 341.12,309.68 340.52,311.25 339.87,312.91 339.21,314.63 338.56,316.33 337.96,317.96 337.38,319.62 336.79,321.35 336.24,323 335.78,324.4 335.44,325.4" fill="none" stroke="#3d6fc4" stroke-width="0.95" stroke-linejoin="round" stroke-linecap="round" />
<polyline points="260,325.4 260.16,323.04 260.39,319.81 260.66,315.97 260.95,311.78 261.24,307.49 261.51,303.36 261.77,299.19 262.02,294.72 262.27,290.16 262.52,285.7 262.78,281.53 263.03,277.84 263.27,274.62 263.51,271.74 263.74,269.14 263.98,266.79 264.25,264.68 264.54,262.76 264.87,261.06 265.21,259.63 265.58,258.42 265.96,257.41 266.38,256.54 266.82,255.79 267.24,255.2 267.63,254.8 268.04,254.54 268.53,254.41 269.17,254.35 270,254.34 271.03,254.4 272.22,254.55 273.55,254.78 275,255.07 276.55,255.42 278.18,255.79 279.97,256.24 281.94,256.76 284.01,257.34 286.1,257.92 288.12,258.48 290,258.98 291.69,259.44 293.26,259.87 294.77,260.27 296.26,260.65 297.78,261 299.39,261.31 301.09,261.59 302.83,261.84 304.61,262.07 306.41,262.25 308.21,262.39 309.99,262.47 311.77,262.48 313.57,262.43 315.37,262.33 317.15,262.19 318.9,262.04 320.6,261.89 322.22,261.75 323.77,261.64 325.29,261.5 326.81,261.31 328.37,261.02 329.99,260.61 331.7,260.05 333.49,259.39 335.3,258.63 337.12,257.79 338.89,256.9 340.59,255.97 342.17,255 343.62,253.98 345.04,252.89 346.5,251.76 348.07,250.56 349.84,249.3 351.76,247.99 353.79,246.65 355.92,245.24 358.19,243.76 360.6,242.18 363.17,240.48 366.16,238.49 369.63,236.18 373.24,233.78 376.67,231.5 379.58,229.56 381.65,228.18 381.46,231.05 381.2,235.14 380.89,239.84 380.57,244.53 380.25,248.6 379.95,251.96 379.65,255.01 379.33,257.9 378.99,260.74 378.62,263.67 378.19,266.76 377.73,269.93 377.25,273.06 376.76,276.03 376.28,278.74 375.84,281.09 375.41,283.17 374.97,285.09 374.49,286.98 373.95,288.94 373.33,291.02 372.65,293.14 371.92,295.24 371.18,297.27 370.45,299.15 369.73,300.83 369.02,302.34 368.29,303.79 367.53,305.29 366.72,306.93 365.83,308.76 364.87,310.72 363.9,312.74 362.94,314.74 362.05,316.65 361.19,318.6 360.31,320.64 359.5,322.58 358.81,324.23 358.32,325.4" fill="none" stroke="#35a55c" stroke-width="0.95" stroke-linejoin="round" stroke-linecap="round" />
<polyline points="260,325.4 260.16,322.91 260.39,319.49 260.66,315.43 260.95,311.01 261.24,306.5 261.51,302.2 261.77,297.89 262.02,293.33 262.27,288.68 262.52,284.13 262.78,279.88 263.03,276.1 263.28,272.78 263.52,269.78 263.77,267.07 264.02,264.62 264.27,262.42 264.54,260.44 264.83,258.72 265.13,257.3 265.44,256.12 265.76,255.13 266.06,254.27 266.36,253.47 266.62,252.78 266.84,252.22 267.05,251.79 267.3,251.48 267.61,251.27 268.03,251.15 268.53,251.15 269.08,251.28 269.71,251.52 270.41,251.83 271.21,252.2 272.12,252.6 273.16,253.06 274.33,253.58 275.59,254.16 276.93,254.78 278.3,255.43 279.69,256.08 281.1,256.77 282.53,257.51 284.01,258.28 285.54,259.04 287.13,259.77 288.78,260.44 290.54,261.08 292.41,261.75 294.33,262.37 296.27,262.93 298.17,263.36 299.99,263.63 301.73,263.69 303.42,263.59 305.07,263.37 306.7,263.08 308.34,262.76 309.99,262.47 311.66,262.18 313.33,261.87 314.99,261.54 316.66,261.18 318.32,260.81 319.99,260.44 321.65,260.02 323.3,259.55 324.95,259.07 326.61,258.61 328.29,258.2 329.99,257.88 331.74,257.71 333.53,257.67 335.34,257.68 337.14,257.68 338.9,257.57 340.59,257.3 342.17,256.9 343.62,256.44 345.04,255.89 346.5,255.2 348.07,254.35 349.84,253.3 351.76,252 353.79,250.46 355.92,248.75 358.19,246.96 360.6,245.14 363.17,243.38 365.99,241.64 369.09,239.87 372.33,238.07 375.59,236.28 378.74,234.5 381.65,232.77 384.38,231.02 387.04,229.23 389.58,227.47 391.98,225.78 394.2,224.24 396.19,222.91 397.89,221.82 399.31,220.93 400.54,220.19 401.68,219.53 402.83,218.89 404.07,218.21 405.49,217.46 407.03,216.69 408.58,215.94 410.01,215.26 411.22,214.68 412.1,214.26 411.86,217.54 411.53,222.21 411.14,227.59 410.72,232.95 410.32,237.6 409.94,241.44 409.55,244.93 409.15,248.23 408.72,251.48 408.24,254.83 407.7,258.36 407.12,261.99 406.5,265.56 405.88,268.96 405.27,272.05 404.7,274.74 404.15,277.12 403.6,279.32 402.99,281.48 402.3,283.72 401.51,286.1 400.64,288.52 399.72,290.93 398.78,293.24 397.85,295.39 396.93,297.31 396.02,299.04 395.1,300.7 394.13,302.41 393.1,304.28 391.97,306.38 390.75,308.62 389.5,310.93 388.29,313.21 387.16,315.4 386.06,317.63 384.94,319.96 383.91,322.17 383.03,324.06 382.41,325.4" fill="none" stroke="#e8474a" stroke-width="0.95" stroke-linejoin="round" stroke-linecap="round" />
<rect x="260" y="194.6" width="167.4" height="130.8" fill="none" stroke="#3a3a3a" stroke-width="1"/>
<line x1="275.15" y1="325.4" x2="275.15" y2="323.9" stroke="#3a3a3a" stroke-width="0.9" />
<line x1="305.45" y1="325.4" x2="305.45" y2="323.9" stroke="#3a3a3a" stroke-width="0.9" />
<line x1="335.75" y1="325.4" x2="335.75" y2="323.9" stroke="#3a3a3a" stroke-width="0.9" />
<line x1="366.05" y1="325.4" x2="366.05" y2="323.9" stroke="#3a3a3a" stroke-width="0.9" />
<line x1="396.34" y1="325.4" x2="396.34" y2="323.9" stroke="#3a3a3a" stroke-width="0.9" />
<line x1="426.64" y1="325.4" x2="426.64" y2="323.9" stroke="#3a3a3a" stroke-width="0.9" />
<line x1="260" y1="325.4" x2="260" y2="322.8" stroke="#3a3a3a" stroke-width="0.9" />
<text transform="translate(260 336.5) scale(0.92 1)" font-size="10.5" text-anchor="middle" fill="#1a1a1a" stroke="#1a1a1a" font-weight="normal" >0</text>
<line x1="290.3" y1="325.4" x2="290.3" y2="322.8" stroke="#3a3a3a" stroke-width="0.9" />
<text transform="translate(290.3 336.5) scale(0.92 1)" font-size="10.5" text-anchor="middle" fill="#1a1a1a" stroke="#1a1a1a" font-weight="normal" >20</text>
<line x1="320.6" y1="325.4" x2="320.6" y2="322.8" stroke="#3a3a3a" stroke-width="0.9" />
<text transform="translate(320.6 336.5) scale(0.92 1)" font-size="10.5" text-anchor="middle" fill="#1a1a1a" stroke="#1a1a1a" font-weight="normal" >40</text>
<line x1="350.9" y1="325.4" x2="350.9" y2="322.8" stroke="#3a3a3a" stroke-width="0.9" />
<text transform="translate(350.9 336.5) scale(0.92 1)" font-size="10.5" text-anchor="middle" fill="#1a1a1a" stroke="#1a1a1a" font-weight="normal" >60</text>
<line x1="381.19" y1="325.4" x2="381.19" y2="322.8" stroke="#3a3a3a" stroke-width="0.9" />
<text transform="translate(381.19 336.5) scale(0.92 1)" font-size="10.5" text-anchor="middle" fill="#1a1a1a" stroke="#1a1a1a" font-weight="normal" >80</text>
<line x1="411.49" y1="325.4" x2="411.49" y2="322.8" stroke="#3a3a3a" stroke-width="0.9" />
<text transform="translate(411.49 336.5) scale(0.92 1)" font-size="10.5" text-anchor="middle" fill="#1a1a1a" stroke="#1a1a1a" font-weight="normal" >100</text>
<line x1="260" y1="310.9" x2="261.5" y2="310.9" stroke="#3a3a3a" stroke-width="0.9" />
<line x1="260" y1="281.9" x2="261.5" y2="281.9" stroke="#3a3a3a" stroke-width="0.9" />
<line x1="260" y1="252.89" x2="261.5" y2="252.89" stroke="#3a3a3a" stroke-width="0.9" />
<line x1="260" y1="223.89" x2="261.5" y2="223.89" stroke="#3a3a3a" stroke-width="0.9" />
<line x1="260" y1="194.89" x2="261.5" y2="194.89" stroke="#3a3a3a" stroke-width="0.9" />
<line x1="260" y1="325.4" x2="262.6" y2="325.4" stroke="#3a3a3a" stroke-width="0.9" />
<text transform="translate(257 328.7) scale(0.92 1)" font-size="10.5" text-anchor="end" fill="#1a1a1a" stroke="#1a1a1a" font-weight="normal" >0</text>
<line x1="260" y1="296.4" x2="262.6" y2="296.4" stroke="#3a3a3a" stroke-width="0.9" />
<text transform="translate(257 299.7) scale(0.92 1)" font-size="10.5" text-anchor="end" fill="#1a1a1a" stroke="#1a1a1a" font-weight="normal" >50</text>
<line x1="260" y1="267.4" x2="262.6" y2="267.4" stroke="#3a3a3a" stroke-width="0.9" />
<text transform="translate(257 270.7) scale(0.92 1)" font-size="10.5" text-anchor="end" fill="#1a1a1a" stroke="#1a1a1a" font-weight="normal" >100</text>
<line x1="260" y1="238.39" x2="262.6" y2="238.39" stroke="#3a3a3a" stroke-width="0.9" />
<text transform="translate(257 241.69) scale(0.92 1)" font-size="10.5" text-anchor="end" fill="#1a1a1a" stroke="#1a1a1a" font-weight="normal" >150</text>
<line x1="260" y1="209.39" x2="262.6" y2="209.39" stroke="#3a3a3a" stroke-width="0.9" />
<text transform="translate(257 212.69) scale(0.92 1)" font-size="10.5" text-anchor="end" fill="#1a1a1a" stroke="#1a1a1a" font-weight="normal" >200</text>
<text x="342.6" y="351" font-size="11.3" text-anchor="middle" fill="#1a1a1a" stroke="#1a1a1a" font-weight="normal" >Strain (%)</text>
<text transform="translate(235.7 259.7) rotate(-90)" x="0" y="0" font-size="11.3" text-anchor="middle" fill="#1a1a1a" stroke="#1a1a1a" >Stress (MPa)</text>
<text x="445.6" y="187.4" font-size="14.5" text-anchor="start" fill="#000" stroke="#000" font-weight="bold" >f</text>
<polyline points="496.26,207.73 529.58,201.89 562.9,203.84 596.22,200.98 629.54,203.19" fill="none" stroke="#e8474a" stroke-width="0.9" stroke-linejoin="round" stroke-linecap="round" />
<circle cx="496.26" cy="207.73" r="1.9" fill="#e8474a"/>
<circle cx="529.58" cy="201.89" r="1.9" fill="#e8474a"/>
<circle cx="562.9" cy="203.84" r="1.9" fill="#e8474a"/>
<circle cx="596.22" cy="200.98" r="1.9" fill="#e8474a"/>
<circle cx="629.54" cy="203.19" r="1.9" fill="#e8474a"/>
<polyline points="496.26,307.23 529.58,284.26 562.9,261.3 596.22,237.34 629.54,206.98" fill="none" stroke="#111" stroke-width="1" stroke-linejoin="round" stroke-linecap="round" />
<rect x="494.76" y="305.73" width="3" height="3" fill="#111"/>
<rect x="528.08" y="282.76" width="3" height="3" fill="#111"/>
<rect x="561.4" y="259.8" width="3" height="3" fill="#111"/>
<rect x="594.72" y="235.84" width="3" height="3" fill="#111"/>
<rect x="628.04" y="205.48" width="3" height="3" fill="#111"/>
<line x1="479.6" y1="195.4" x2="646.2" y2="195.4" stroke="#3a3a3a" stroke-width="1" />
<line x1="479.6" y1="325.2" x2="646.2" y2="325.2" stroke="#3a3a3a" stroke-width="1" />
<line x1="479.6" y1="195.4" x2="479.6" y2="325.2" stroke="#3a3a3a" stroke-width="1" />
<line x1="646.2" y1="195.4" x2="646.2" y2="325.2" stroke="#e8474a" stroke-width="1" />
<line x1="479.6" y1="325.2" x2="479.6" y2="323.7" stroke="#3a3a3a" stroke-width="0.9" />
<line x1="512.92" y1="325.2" x2="512.92" y2="323.7" stroke="#3a3a3a" stroke-width="0.9" />
<line x1="546.24" y1="325.2" x2="546.24" y2="323.7" stroke="#3a3a3a" stroke-width="0.9" />
<line x1="579.56" y1="325.2" x2="579.56" y2="323.7" stroke="#3a3a3a" stroke-width="0.9" />
<line x1="612.88" y1="325.2" x2="612.88" y2="323.7" stroke="#3a3a3a" stroke-width="0.9" />
<line x1="646.2" y1="325.2" x2="646.2" y2="323.7" stroke="#3a3a3a" stroke-width="0.9" />
<line x1="496.26" y1="325.2" x2="496.26" y2="322.6" stroke="#3a3a3a" stroke-width="0.9" />
<text transform="translate(496.26 336.3) scale(0.92 1)" font-size="10.5" text-anchor="middle" fill="#1a1a1a" stroke="#1a1a1a" font-weight="normal" >20</text>
<line x1="529.58" y1="325.2" x2="529.58" y2="322.6" stroke="#3a3a3a" stroke-width="0.9" />
<text transform="translate(529.58 336.3) scale(0.92 1)" font-size="10.5" text-anchor="middle" fill="#1a1a1a" stroke="#1a1a1a" font-weight="normal" >40</text>
<line x1="562.9" y1="325.2" x2="562.9" y2="322.6" stroke="#3a3a3a" stroke-width="0.9" />
<text transform="translate(562.9 336.3) scale(0.92 1)" font-size="10.5" text-anchor="middle" fill="#1a1a1a" stroke="#1a1a1a" font-weight="normal" >60</text>
<line x1="596.22" y1="325.2" x2="596.22" y2="322.6" stroke="#3a3a3a" stroke-width="0.9" />
<text transform="translate(596.22 336.3) scale(0.92 1)" font-size="10.5" text-anchor="middle" fill="#1a1a1a" stroke="#1a1a1a" font-weight="normal" >80</text>
<line x1="629.54" y1="325.2" x2="629.54" y2="322.6" stroke="#3a3a3a" stroke-width="0.9" />
<text transform="translate(629.54 336.3) scale(0.92 1)" font-size="10.5" text-anchor="middle" fill="#1a1a1a" stroke="#1a1a1a" font-weight="normal" >100</text>
<line x1="479.6" y1="315.22" x2="481.1" y2="315.22" stroke="#3a3a3a" stroke-width="0.9" />
<line x1="479.6" y1="295.25" x2="481.1" y2="295.25" stroke="#3a3a3a" stroke-width="0.9" />
<line x1="479.6" y1="275.28" x2="481.1" y2="275.28" stroke="#3a3a3a" stroke-width="0.9" />
<line x1="479.6" y1="255.31" x2="481.1" y2="255.31" stroke="#3a3a3a" stroke-width="0.9" />
<line x1="479.6" y1="235.34" x2="481.1" y2="235.34" stroke="#3a3a3a" stroke-width="0.9" />
<line x1="479.6" y1="215.37" x2="481.1" y2="215.37" stroke="#3a3a3a" stroke-width="0.9" />
<line x1="479.6" y1="195.4" x2="481.1" y2="195.4" stroke="#3a3a3a" stroke-width="0.9" />
<line x1="479.6" y1="325.2" x2="482.2" y2="325.2" stroke="#3a3a3a" stroke-width="0.9" />
<text transform="translate(477.7 328.5) scale(0.92 1)" font-size="10.5" text-anchor="end" fill="#1a1a1a" stroke="#1a1a1a" font-weight="normal" >0</text>
<line x1="479.6" y1="305.23" x2="482.2" y2="305.23" stroke="#3a3a3a" stroke-width="0.9" />
<text transform="translate(477.7 308.53) scale(0.92 1)" font-size="10.5" text-anchor="end" fill="#1a1a1a" stroke="#1a1a1a" font-weight="normal" >20</text>
<line x1="479.6" y1="285.26" x2="482.2" y2="285.26" stroke="#3a3a3a" stroke-width="0.9" />
<text transform="translate(477.7 288.56) scale(0.92 1)" font-size="10.5" text-anchor="end" fill="#1a1a1a" stroke="#1a1a1a" font-weight="normal" >40</text>
<line x1="479.6" y1="265.29" x2="482.2" y2="265.29" stroke="#3a3a3a" stroke-width="0.9" />
<text transform="translate(477.7 268.59) scale(0.92 1)" font-size="10.5" text-anchor="end" fill="#1a1a1a" stroke="#1a1a1a" font-weight="normal" >60</text>
<line x1="479.6" y1="245.32" x2="482.2" y2="245.32" stroke="#3a3a3a" stroke-width="0.9" />
<text transform="translate(477.7 248.62) scale(0.92 1)" font-size="10.5" text-anchor="end" fill="#1a1a1a" stroke="#1a1a1a" font-weight="normal" >80</text>
<line x1="479.6" y1="225.35" x2="482.2" y2="225.35" stroke="#3a3a3a" stroke-width="0.9" />
<text transform="translate(477.7 228.65) scale(0.92 1)" font-size="10.5" text-anchor="end" fill="#1a1a1a" stroke="#1a1a1a" font-weight="normal" >100</text>
<line x1="479.6" y1="205.38" x2="482.2" y2="205.38" stroke="#3a3a3a" stroke-width="0.9" />
<text transform="translate(477.7 208.68) scale(0.92 1)" font-size="10.5" text-anchor="end" fill="#1a1a1a" stroke="#1a1a1a" font-weight="normal" >120</text>
<line x1="646.2" y1="312.22" x2="644.7" y2="312.22" stroke="#e8474a" stroke-width="0.9" />
<line x1="646.2" y1="286.26" x2="644.7" y2="286.26" stroke="#e8474a" stroke-width="0.9" />
<line x1="646.2" y1="260.3" x2="644.7" y2="260.3" stroke="#e8474a" stroke-width="0.9" />
<line x1="646.2" y1="234.34" x2="644.7" y2="234.34" stroke="#e8474a" stroke-width="0.9" />
<line x1="646.2" y1="208.38" x2="644.7" y2="208.38" stroke="#e8474a" stroke-width="0.9" />
<line x1="646.2" y1="325.2" x2="643.6" y2="325.2" stroke="#e8474a" stroke-width="0.9" />
<text transform="translate(650.7 328.5) scale(0.92 1)" font-size="10.5" text-anchor="start" fill="#e8474a" stroke="#e8474a" font-weight="normal" >0</text>
<line x1="646.2" y1="299.24" x2="643.6" y2="299.24" stroke="#e8474a" stroke-width="0.9" />
<text transform="translate(650.7 302.54) scale(0.92 1)" font-size="10.5" text-anchor="start" fill="#e8474a" stroke="#e8474a" font-weight="normal" >20</text>
<line x1="646.2" y1="273.28" x2="643.6" y2="273.28" stroke="#e8474a" stroke-width="0.9" />
<text transform="translate(650.7 276.58) scale(0.92 1)" font-size="10.5" text-anchor="start" fill="#e8474a" stroke="#e8474a" font-weight="normal" >40</text>
<line x1="646.2" y1="247.32" x2="643.6" y2="247.32" stroke="#e8474a" stroke-width="0.9" />
<text transform="translate(650.7 250.62) scale(0.92 1)" font-size="10.5" text-anchor="start" fill="#e8474a" stroke="#e8474a" font-weight="normal" >60</text>
<line x1="646.2" y1="221.36" x2="643.6" y2="221.36" stroke="#e8474a" stroke-width="0.9" />
<text transform="translate(650.7 224.66) scale(0.92 1)" font-size="10.5" text-anchor="start" fill="#e8474a" stroke="#e8474a" font-weight="normal" >80</text>
<line x1="646.2" y1="195.4" x2="643.6" y2="195.4" stroke="#e8474a" stroke-width="0.9" />
<text transform="translate(650.7 198.7) scale(0.92 1)" font-size="10.5" text-anchor="start" fill="#e8474a" stroke="#e8474a" font-weight="normal" >100</text>
<text x="562.8" y="350.2" font-size="11.3" text-anchor="middle" fill="#1a1a1a" stroke="#1a1a1a" font-weight="normal" >Strain (%)</text>
<text transform="translate(458.2 267.2) rotate(-90)" font-size="11.1" text-anchor="middle" fill="#1a1a1a" stroke="#1a1a1a">Energy dissipation (MJ m<tspan dy="-4" font-size="7.5">-3</tspan><tspan dy="4">)</tspan></text>
<text transform="translate(674.2 253.7) rotate(-90)" font-size="11.1" text-anchor="middle" fill="#e8474a" stroke="#e8474a">Damping capacity (%)</text>
<text x="0" y="366" font-size="14.5" text-anchor="start" fill="#000" stroke="#000" font-weight="bold" >g</text>
<polyline points="140.03,499.5 140.24,499.29 140.55,499 140.91,498.66 141.25,498.27 141.54,497.86 141.75,497.52 141.92,497.21 142.07,496.84 142.24,496.28 142.45,495.41 142.7,494.25 142.98,492.9 143.29,491.3 143.61,489.42 143.96,487.22 144.33,484.55 144.71,481.45 145.12,478.12 145.57,474.79 146.08,471.66 146.64,468.73 147.21,465.85 147.85,463.04 148.58,460.33 149.42,457.74 150.36,455.32 151.4,453.04 152.54,450.84 153.79,448.67 155.17,446.44 156.69,444.21 158.34,442 160.1,439.78 161.98,437.48 163.96,435.06 166.11,432.45 168.45,429.67 170.86,426.84 173.24,424.07 175.47,421.47 177.68,418.9 179.94,416.28 182.07,413.82 183.87,411.74 185.16,410.26 185.08,412.54 184.97,414.54 184.84,416.96 184.69,419.67 184.51,422.57 184.33,425.72 184.13,429.22 183.91,432.93 183.65,436.74 183.35,440.52 183.05,444.3 182.75,448.17 182.4,452.08 181.93,456 181.29,459.89 180.41,463.87 179.34,467.97 178.16,472 176.98,475.8 175.87,479.16 174.88,482.03 173.96,484.52 173.03,486.75 172.03,488.81 170.9,490.83 169.48,492.9 167.82,494.93 166.14,496.8 164.67,498.37 163.65,499.5" fill="none" stroke="#35a55c" stroke-width="1" stroke-linejoin="round" stroke-linecap="round" />
<polyline points="133.06,499.5 133.32,499.4 133.7,499.27 134.13,499.11 134.54,498.91 134.88,498.68 135.11,498.5 135.28,498.36 135.42,498.15 135.58,497.75 135.79,497.04 136.05,496.04 136.33,494.82 136.64,493.37 136.97,491.66 137.3,489.68 137.63,487.34 137.96,484.66 138.31,481.76 138.69,478.75 139.12,475.76 139.58,472.68 140.07,469.46 140.6,466.21 141.19,463.08 141.84,460.2 142.56,457.61 143.32,455.2 144.14,452.95 145.06,450.81 146.08,448.74 147.19,446.85 148.36,445.18 149.64,443.55 151.09,441.79 152.75,439.73 154.69,437.29 156.89,434.57 159.23,431.71 161.62,428.85 163.96,426.14 166.27,423.54 168.63,420.95 170.98,418.43 173.28,416.02 175.47,413.78 177.68,411.6 179.94,409.47 182.07,407.51 183.87,405.87 185.16,404.69 185.07,406.09 184.96,408.24 184.82,410.84 184.66,413.76 184.48,416.87 184.28,420.26 184.07,424.01 183.84,428 183.57,432.09 183.25,436.15 182.93,440.22 182.62,444.37 182.24,448.57 181.75,452.77 181.07,456.95 180.14,461.23 179.01,465.63 177.77,469.97 176.52,474.04 175.34,477.66 174.3,480.74 173.33,483.41 172.35,485.8 171.29,488.02 170.1,490.19 168.6,492.41 166.84,494.59 165.07,496.6 163.52,498.29 162.44,499.5" fill="none" stroke="#2f6fe0" stroke-width="1" stroke-linejoin="round" stroke-linecap="round" />
<polyline points="32.5,499.5 32.91,496.23 33.49,491.64 34.17,486.24 34.87,480.5 35.53,474.94 36.15,469.31 36.8,463.3 37.43,457.23 38.03,451.45 38.56,446.28 39.01,441.68 39.4,437.41 39.75,433.57 40.07,430.22 40.38,427.45 40.63,425.4 40.82,424.02 41,423.09 41.24,422.39 41.59,421.72 42.03,421.15 42.52,420.83 43.1,420.63 43.79,420.42 44.62,420.08 45.61,419.58 46.76,418.99 48.02,418.37 49.34,417.77 50.67,417.22 51.99,416.7 53.32,416.19 54.72,415.72 56.24,415.31 57.94,415 59.82,414.82 61.84,414.73 64.01,414.7 66.34,414.72 68.85,414.76 71.59,414.83 74.56,414.96 77.67,415.11 80.84,415.24 83.99,415.33 87.12,415.39 90.29,415.44 93.49,415.46 96.74,415.43 100.05,415.33 103.4,415.17 106.79,414.97 110.24,414.71 113.74,414.37 117.31,413.94 120.99,413.41 124.77,412.77 128.59,412.07 132.39,411.33 136.09,410.58 139.72,409.83 143.32,409.05 146.86,408.24 150.32,407.42 153.66,406.57 156.81,405.73 159.8,404.88 162.73,404.01 165.7,403.08 168.8,402.07 172.35,400.86 176.27,399.47 180.11,398.07 183.43,396.86 185.76,396.01 185.66,397.72 185.52,400.06 185.34,402.89 185.14,406.07 184.91,409.46 184.67,413.16 184.4,417.24 184.11,421.59 183.77,426.04 183.37,430.47 182.97,434.9 182.58,439.42 182.11,444 181.49,448.58 180.64,453.14 179.48,457.8 178.06,462.6 176.5,467.32 174.93,471.76 173.46,475.7 172.16,479.06 170.94,481.97 169.71,484.57 168.39,486.99 166.89,489.36 165.01,491.77 162.81,494.15 160.58,496.34 158.65,498.18 157.29,499.5" fill="none" stroke="#333" stroke-width="1" stroke-linejoin="round" stroke-linecap="round" />
<polyline points="32.5,499.5 32.83,495.67 33.29,490.3 33.84,483.98 34.4,477.3 34.92,470.84 35.42,464.28 35.92,457.21 36.42,450.15 36.9,443.61 37.35,438.09 37.76,433.69 38.15,430.06 38.51,427.08 38.85,424.61 39.16,422.54 39.44,420.97 39.66,419.99 39.88,419.43 40.1,419.11 40.38,418.85 40.68,418.72 41,418.82 41.35,419.07 41.74,419.38 42.19,419.67 42.68,420 43.2,420.43 43.78,420.85 44.44,421.18 45.22,421.31 46.13,421.18 47.14,420.86 48.25,420.44 49.43,420.02 50.67,419.67 51.9,419.4 53.13,419.13 54.47,418.89 56.03,418.71 57.94,418.61 60.3,418.6 63.02,418.66 65.96,418.78 68.96,418.93 71.88,419.1 74.71,419.31 77.56,419.57 80.42,419.85 83.28,420.09 86.11,420.25 88.86,420.32 91.55,420.34 94.25,420.3 97.05,420.22 100.05,420.08 103.2,419.91 106.45,419.7 109.85,419.43 113.45,419.08 117.31,418.61 121.55,418.05 126.14,417.41 130.87,416.67 135.57,415.79 140.03,414.76 144.33,413.47 148.61,411.95 152.74,410.33 156.59,408.76 160.02,407.39 162.87,406.28 165.23,405.32 167.35,404.44 169.46,403.52 171.83,402.48 174.7,401.18 177.92,399.69 181.09,398.21 183.84,396.91 185.76,396.01 185.67,397.72 185.53,400.06 185.37,402.89 185.18,406.07 184.96,409.46 184.74,413.16 184.49,417.24 184.21,421.59 183.89,426.04 183.53,430.47 183.15,434.9 182.78,439.42 182.34,444 181.76,448.58 180.97,453.14 179.88,457.8 178.55,462.6 177.1,467.32 175.62,471.76 174.25,475.7 173.03,479.06 171.88,481.97 170.73,484.57 169.5,486.99 168.09,489.36 166.33,491.77 164.27,494.15 162.19,496.34 160.38,498.18 159.11,499.5" fill="none" stroke="#ee2a2a" stroke-width="1.1" stroke-linejoin="round" stroke-linecap="round" />
<polyline points="185.76,396.01 186.07,401.25 185.46,407.8" fill="none" stroke="#ee2a2a" stroke-width="1" stroke-linejoin="round" stroke-linecap="round" />
<rect x="32.5" y="368.5" width="167.5" height="131" fill="none" stroke="#3a3a3a" stroke-width="1"/>
<line x1="47.64" y1="499.5" x2="47.64" y2="498" stroke="#3a3a3a" stroke-width="0.9" />
<line x1="77.93" y1="499.5" x2="77.93" y2="498" stroke="#3a3a3a" stroke-width="0.9" />
<line x1="108.22" y1="499.5" x2="108.22" y2="498" stroke="#3a3a3a" stroke-width="0.9" />
<line x1="138.51" y1="499.5" x2="138.51" y2="498" stroke="#3a3a3a" stroke-width="0.9" />
<line x1="168.8" y1="499.5" x2="168.8" y2="498" stroke="#3a3a3a" stroke-width="0.9" />
<line x1="199.09" y1="499.5" x2="199.09" y2="498" stroke="#3a3a3a" stroke-width="0.9" />
<line x1="32.5" y1="499.5" x2="32.5" y2="496.9" stroke="#3a3a3a" stroke-width="0.9" />
<text transform="translate(32.5 510.6) scale(0.92 1)" font-size="10.5" text-anchor="middle" fill="#1a1a1a" stroke="#1a1a1a" font-weight="normal" >0</text>
<line x1="62.79" y1="499.5" x2="62.79" y2="496.9" stroke="#3a3a3a" stroke-width="0.9" />
<text transform="translate(62.79 510.6) scale(0.92 1)" font-size="10.5" text-anchor="middle" fill="#1a1a1a" stroke="#1a1a1a" font-weight="normal" >10</text>
<line x1="93.08" y1="499.5" x2="93.08" y2="496.9" stroke="#3a3a3a" stroke-width="0.9" />
<text transform="translate(93.08 510.6) scale(0.92 1)" font-size="10.5" text-anchor="middle" fill="#1a1a1a" stroke="#1a1a1a" font-weight="normal" >20</text>
<line x1="123.37" y1="499.5" x2="123.37" y2="496.9" stroke="#3a3a3a" stroke-width="0.9" />
<text transform="translate(123.37 510.6) scale(0.92 1)" font-size="10.5" text-anchor="middle" fill="#1a1a1a" stroke="#1a1a1a" font-weight="normal" >30</text>
<line x1="153.66" y1="499.5" x2="153.66" y2="496.9" stroke="#3a3a3a" stroke-width="0.9" />
<text transform="translate(153.66 510.6) scale(0.92 1)" font-size="10.5" text-anchor="middle" fill="#1a1a1a" stroke="#1a1a1a" font-weight="normal" >40</text>
<line x1="183.95" y1="499.5" x2="183.95" y2="496.9" stroke="#3a3a3a" stroke-width="0.9" />
<text transform="translate(183.95 510.6) scale(0.92 1)" font-size="10.5" text-anchor="middle" fill="#1a1a1a" stroke="#1a1a1a" font-weight="normal" >50</text>
<line x1="32.5" y1="479.03" x2="34" y2="479.03" stroke="#3a3a3a" stroke-width="0.9" />
<line x1="32.5" y1="438.09" x2="34" y2="438.09" stroke="#3a3a3a" stroke-width="0.9" />
<line x1="32.5" y1="397.16" x2="34" y2="397.16" stroke="#3a3a3a" stroke-width="0.9" />
<line x1="32.5" y1="499.5" x2="35.1" y2="499.5" stroke="#3a3a3a" stroke-width="0.9" />
<text transform="translate(29.5 502.8) scale(0.92 1)" font-size="10.5" text-anchor="end" fill="#1a1a1a" stroke="#1a1a1a" font-weight="normal" >0</text>
<line x1="32.5" y1="458.56" x2="35.1" y2="458.56" stroke="#3a3a3a" stroke-width="0.9" />
<text transform="translate(29.5 461.86) scale(0.92 1)" font-size="10.5" text-anchor="end" fill="#1a1a1a" stroke="#1a1a1a" font-weight="normal" >50</text>
<line x1="32.5" y1="417.62" x2="35.1" y2="417.62" stroke="#3a3a3a" stroke-width="0.9" />
<text transform="translate(29.5 420.93) scale(0.92 1)" font-size="10.5" text-anchor="end" fill="#1a1a1a" stroke="#1a1a1a" font-weight="normal" >100</text>
<line x1="32.5" y1="376.69" x2="35.1" y2="376.69" stroke="#3a3a3a" stroke-width="0.9" />
<text transform="translate(29.5 379.99) scale(0.92 1)" font-size="10.5" text-anchor="end" fill="#1a1a1a" stroke="#1a1a1a" font-weight="normal" >150</text>
<text x="107.3" y="525" font-size="11.3" text-anchor="middle" fill="#1a1a1a" stroke="#1a1a1a" font-weight="normal" >Strain (%)</text>
<text transform="translate(7.9 435.2) rotate(-90)" x="0" y="0" font-size="11.3" text-anchor="middle" fill="#1a1a1a" stroke="#1a1a1a" >Stress (MPa)</text>
<text x="64.2" y="398.6" font-size="8.6" text-anchor="start" fill="#1a1a1a" stroke="#1a1a1a" font-weight="normal" >Moisture treatment</text>
<text x="63.6" y="443.4" font-size="8.6" text-anchor="start" fill="#1a1a1a" stroke="#1a1a1a" font-weight="normal" >First loading</text>
<text x="63.6" y="461.4" font-size="8.6" text-anchor="start" fill="#1a1a1a" stroke="#1a1a1a" font-weight="normal" >Second loading</text>
<text x="70.4" y="481.4" font-size="8.6" text-anchor="start" fill="#1a1a1a" stroke="#1a1a1a" font-weight="normal" >Third loading</text>
<line x1="100.4" y1="400" x2="100.4" y2="409.4" stroke="#111" stroke-width="1.4" />
<path d="M100.4 414L97.9 409.4L102.9 409.4Z" fill="#111"/>
<line x1="86.6" y1="434" x2="86.6" y2="426.6" stroke="#111" stroke-width="1.4" />
<path d="M86.6 422L89.1 426.6L84.1 426.6Z" fill="#111"/>
<line x1="124.4" y1="458.6" x2="138.2" y2="458.6" stroke="#111" stroke-width="1.4" />
<path d="M142.8 458.6L138.2 461.1L138.2 456.1Z" fill="#111"/>
<line x1="123" y1="479.6" x2="136.6" y2="479.6" stroke="#111" stroke-width="1.4" />
<path d="M141.2 479.6L136.6 482.1L136.6 477.1Z" fill="#111"/>
<text x="227" y="366" font-size="14.5" text-anchor="start" fill="#000" stroke="#000" font-weight="bold" >h</text>
<polyline points="262.6,408.3 304.05,408.3 305.37,396.93 306.36,383.28 307.34,375.54 308.66,387.82 309.81,399.2 310.96,403.75 312.77,395.56 314.42,390.1 316.06,396.93 317.38,402.38 319.35,398.29 321.33,395.11 323.47,397.38 325.93,398.75 328.4,397.84 333.01,400.11 336.95,398.29 341.56,399.66 344.85,398.97 353.08,399.66 361.3,399.2 369.53,399.66 377.75,399.2 591.6,399.2" fill="none" stroke="#e8474a" stroke-width="1.5" stroke-linejoin="round" stroke-linecap="round" />
<polyline points="262.6,449.4 303.07,449.4 304.55,438.82 305.86,428.25 307.02,424.02 308.66,429.66 310.63,436 313.6,433.89 317.05,432.13 320.67,437.06 323.96,433.54 327.41,436.71 330.54,434.59 334.98,436 341.56,435.3 348.14,436 354.72,436 591.6,436" fill="none" stroke="#35a55c" stroke-width="1.5" stroke-linejoin="round" stroke-linecap="round" />
<polyline points="262.6,493.6 300.93,493.6 302.41,481.76 304.05,468.44 306.03,464 308,457.64 309.98,461.63 311.95,461.93 591.6,461.93" fill="none" stroke="#3d6fc4" stroke-width="1.5" stroke-linejoin="round" stroke-linecap="round" />
<rect x="262.6" y="367.5" width="329" height="126.1" fill="none" stroke="#3a3a3a" stroke-width="1"/>
<line x1="262.6" y1="408.3" x2="591.6" y2="408.3" stroke="#3a3a3a" stroke-width="1" />
<line x1="262.6" y1="449.4" x2="591.6" y2="449.4" stroke="#3a3a3a" stroke-width="1" />
<line x1="295.5" y1="493.6" x2="295.5" y2="492.1" stroke="#3a3a3a" stroke-width="0.9" />
<line x1="361.3" y1="493.6" x2="361.3" y2="492.1" stroke="#3a3a3a" stroke-width="0.9" />
<line x1="427.1" y1="493.6" x2="427.1" y2="492.1" stroke="#3a3a3a" stroke-width="0.9" />
<line x1="492.9" y1="493.6" x2="492.9" y2="492.1" stroke="#3a3a3a" stroke-width="0.9" />
<line x1="558.7" y1="493.6" x2="558.7" y2="492.1" stroke="#3a3a3a" stroke-width="0.9" />
<line x1="262.6" y1="493.6" x2="262.6" y2="491" stroke="#3a3a3a" stroke-width="0.9" />
<text transform="translate(262.6 504.2) scale(0.92 1)" font-size="10.5" text-anchor="middle" fill="#1a1a1a" stroke="#1a1a1a" font-weight="normal" >0</text>
<line x1="328.4" y1="493.6" x2="328.4" y2="491" stroke="#3a3a3a" stroke-width="0.9" />
<text transform="translate(328.4 504.2) scale(0.92 1)" font-size="10.5" text-anchor="middle" fill="#1a1a1a" stroke="#1a1a1a" font-weight="normal" >4</text>
<line x1="394.2" y1="493.6" x2="394.2" y2="491" stroke="#3a3a3a" stroke-width="0.9" />
<text transform="translate(394.2 504.2) scale(0.92 1)" font-size="10.5" text-anchor="middle" fill="#1a1a1a" stroke="#1a1a1a" font-weight="normal" >8</text>
<line x1="460" y1="493.6" x2="460" y2="491" stroke="#3a3a3a" stroke-width="0.9" />
<text transform="translate(460 504.2) scale(0.92 1)" font-size="10.5" text-anchor="middle" fill="#1a1a1a" stroke="#1a1a1a" font-weight="normal" >12</text>
<line x1="525.8" y1="493.6" x2="525.8" y2="491" stroke="#3a3a3a" stroke-width="0.9" />
<text transform="translate(525.8 504.2) scale(0.92 1)" font-size="10.5" text-anchor="middle" fill="#1a1a1a" stroke="#1a1a1a" font-weight="normal" >16</text>
<line x1="591.6" y1="493.6" x2="591.6" y2="491" stroke="#3a3a3a" stroke-width="0.9" />
<text transform="translate(591.6 504.2) scale(0.92 1)" font-size="10.5" text-anchor="middle" fill="#1a1a1a" stroke="#1a1a1a" font-weight="normal" >20</text>
<line x1="262.6" y1="399.2" x2="264.1" y2="399.2" stroke="#3a3a3a" stroke-width="0.9" />
<line x1="262.6" y1="381" x2="264.1" y2="381" stroke="#3a3a3a" stroke-width="0.9" />
<line x1="262.6" y1="408.3" x2="265.2" y2="408.3" stroke="#3a3a3a" stroke-width="0.9" />
<text transform="translate(259.6 411.6) scale(0.92 1)" font-size="10.5" text-anchor="end" fill="#1a1a1a" stroke="#1a1a1a" font-weight="normal" >0.0</text>
<line x1="262.6" y1="390.1" x2="265.2" y2="390.1" stroke="#3a3a3a" stroke-width="0.9" />
<text transform="translate(259.6 393.4) scale(0.92 1)" font-size="10.5" text-anchor="end" fill="#1a1a1a" stroke="#1a1a1a" font-weight="normal" >0.4</text>
<line x1="262.6" y1="371.9" x2="265.2" y2="371.9" stroke="#3a3a3a" stroke-width="0.9" />
<text transform="translate(259.6 375.2) scale(0.92 1)" font-size="10.5" text-anchor="end" fill="#1a1a1a" stroke="#1a1a1a" font-weight="normal" >0.8</text>
<line x1="262.6" y1="438.82" x2="264.1" y2="438.82" stroke="#3a3a3a" stroke-width="0.9" />
<line x1="262.6" y1="417.67" x2="264.1" y2="417.67" stroke="#3a3a3a" stroke-width="0.9" />
<line x1="262.6" y1="449.4" x2="265.2" y2="449.4" stroke="#3a3a3a" stroke-width="0.9" />
<text transform="translate(259.6 452.7) scale(0.92 1)" font-size="10.5" text-anchor="end" fill="#1a1a1a" stroke="#1a1a1a" font-weight="normal" >0.0</text>
<line x1="262.6" y1="428.25" x2="265.2" y2="428.25" stroke="#3a3a3a" stroke-width="0.9" />
<text transform="translate(259.6 431.55) scale(0.92 1)" font-size="10.5" text-anchor="end" fill="#1a1a1a" stroke="#1a1a1a" font-weight="normal" >0.3</text>
<line x1="262.6" y1="478.8" x2="264.1" y2="478.8" stroke="#3a3a3a" stroke-width="0.9" />
<line x1="262.6" y1="493.6" x2="265.2" y2="493.6" stroke="#3a3a3a" stroke-width="0.9" />
<text transform="translate(259.6 496.9) scale(0.92 1)" font-size="10.5" text-anchor="end" fill="#1a1a1a" stroke="#1a1a1a" font-weight="normal" >0.0</text>
<line x1="262.6" y1="464" x2="265.2" y2="464" stroke="#3a3a3a" stroke-width="0.9" />
<text transform="translate(259.6 467.3) scale(0.92 1)" font-size="10.5" text-anchor="end" fill="#1a1a1a" stroke="#1a1a1a" font-weight="normal" >0.2</text>
<g stroke="#111" stroke-width="0.9" stroke-dasharray="3.2 2.2">
<line x1="307.8" y1="375" x2="307.8" y2="478" stroke="#111" stroke-width="0.9" />
<line x1="375.6" y1="396" x2="375.6" y2="414" stroke="#111" stroke-width="0.9" />
<line x1="350.4" y1="430" x2="350.4" y2="449.4" stroke="#111" stroke-width="0.9" />
</g>
<text x="276" y="398.6" font-size="8.3" text-anchor="start" fill="#1a1a1a" stroke="#1a1a1a" font-weight="normal" >Impact</text>
<text x="320" y="388.6" font-size="8.3" text-anchor="start" fill="#1a1a1a" stroke="#1a1a1a" font-weight="normal" >Oscillations</text>
<text x="370" y="391.8" font-size="9.7" text-anchor="start" fill="#1a1a1a" stroke="#1a1a1a" font-weight="normal" >6.7 s</text>
<text x="344" y="425.2" font-size="9.7" text-anchor="start" fill="#1a1a1a" stroke="#1a1a1a" font-weight="normal" >5.1 s</text>
<text x="314.4" y="481.8" font-size="9.7" text-anchor="start" fill="#1a1a1a" stroke="#1a1a1a" font-weight="normal" >2.8 s</text>
<text x="520.5" y="387.8" font-size="9.7" text-anchor="middle" fill="#e8474a" stroke="#e8474a" font-weight="normal" >H/L = 86%</text>
<text x="520.5" y="425.3" font-size="9.7" text-anchor="middle" fill="#35a55c" stroke="#35a55c" font-weight="normal" >H/L = 57%</text>
<text x="520.5" y="481.8" font-size="9.7" text-anchor="middle" fill="#3d6fc4" stroke="#3d6fc4" font-weight="normal" >H/L = 28%</text>
<text x="418.8" y="517" font-size="11.3" text-anchor="middle" fill="#1a1a1a" stroke="#1a1a1a" font-weight="normal" >Time (s)</text>
<text transform="translate(238.6 430.5) rotate(-90)" x="0" y="0" font-size="11.3" text-anchor="middle" fill="#1a1a1a" stroke="#1a1a1a" >Force (N)</text>
<text x="0.5" y="10.4" font-size="14.5" text-anchor="start" fill="#000" stroke="#000" font-weight="bold" >a</text>
<rect x="42.2" y="50" width="16.4" height="68" fill="url(#silk)"/>
<rect x="42.2" y="50" width="16.4" height="68" fill="url(#silkv)"/>
<line x1="50.6" y1="53" x2="50.6" y2="106" stroke="#c4c4c4" stroke-width="0.8" />
<line x1="51.1" y1="39.4" x2="31.4" y2="9.1" stroke="#b4b4b4" stroke-width="0.7" />
<line x1="51.1" y1="39.4" x2="68.3" y2="6.6" stroke="#b4b4b4" stroke-width="0.7" />
<line x1="51.1" y1="39.4" x2="86.9" y2="38.2" stroke="#b4b4b4" stroke-width="0.7" />
<line x1="51.1" y1="39.4" x2="69.8" y2="70.1" stroke="#b4b4b4" stroke-width="0.7" />
<line x1="51.1" y1="39.4" x2="34.3" y2="70.5" stroke="#b4b4b4" stroke-width="0.7" />
<line x1="51.1" y1="39.4" x2="14.3" y2="40.6" stroke="#b4b4b4" stroke-width="0.7" />
<path d="M35.34 15.16Q50.77 31.07 64.86 13.16" fill="none" stroke="#b4b4b4" stroke-width="0.7"/>
<path d="M64.86 13.16Q58.1 34.91 79.74 38.44" fill="none" stroke="#b4b4b4" stroke-width="0.7"/>
<path d="M79.74 38.44Q58.29 43.29 66.06 63.96" fill="none" stroke="#b4b4b4" stroke-width="0.7"/>
<path d="M66.06 63.96Q51.35 47.56 37.66 64.28" fill="none" stroke="#b4b4b4" stroke-width="0.7"/>
<path d="M37.66 64.28Q44.02 43.66 21.66 40.36" fill="none" stroke="#b4b4b4" stroke-width="0.7"/>
<path d="M21.66 40.36Q43.64 35.56 35.34 15.16" fill="none" stroke="#b4b4b4" stroke-width="0.7"/>
<path d="M41.25 24.25Q50.93 35.14 59.7 23" fill="none" stroke="#b4b4b4" stroke-width="0.7"/>
<path d="M59.7 23Q54.68 37.1 69 38.8" fill="none" stroke="#b4b4b4" stroke-width="0.7"/>
<path d="M69 38.8Q54.78 41.39 60.45 54.75" fill="none" stroke="#b4b4b4" stroke-width="0.7"/>
<path d="M60.45 54.75Q51.23 43.57 42.7 54.95" fill="none" stroke="#b4b4b4" stroke-width="0.7"/>
<path d="M42.7 54.95Q47.48 41.58 32.7 40" fill="none" stroke="#b4b4b4" stroke-width="0.7"/>
<path d="M32.7 40Q47.29 37.44 41.25 24.25" fill="none" stroke="#b4b4b4" stroke-width="0.7"/>
<line x1="44.01" y1="28.49" x2="63.99" y2="38.97" stroke="#b4b4b4" stroke-width="0.7" />
<line x1="57.29" y1="27.59" x2="57.83" y2="50.45" stroke="#b4b4b4" stroke-width="0.7" />
<line x1="63.99" y1="38.97" x2="45.05" y2="50.6" stroke="#b4b4b4" stroke-width="0.7" />
<line x1="57.83" y1="50.45" x2="37.85" y2="39.83" stroke="#b4b4b4" stroke-width="0.7" />
<line x1="45.05" y1="50.6" x2="44.01" y2="28.49" stroke="#b4b4b4" stroke-width="0.7" />
<line x1="37.85" y1="39.83" x2="57.29" y2="27.59" stroke="#b4b4b4" stroke-width="0.7" />
<polyline points="48.5,122 38.5,116.5 31,104.2" fill="none" stroke="#7a7a7a" stroke-width="1.9" stroke-linejoin="round" stroke-linecap="round" />
<polyline points="53.1,122 63.1,116.5 70.6,104.2" fill="none" stroke="#7a7a7a" stroke-width="1.9" stroke-linejoin="round" stroke-linecap="round" />
<polyline points="47.5,125 37.5,121.8 26.3,124.2" fill="none" stroke="#7a7a7a" stroke-width="1.9" stroke-linejoin="round" stroke-linecap="round" />
<polyline points="54.1,125 64.1,121.8 75.3,124.2" fill="none" stroke="#7a7a7a" stroke-width="1.9" stroke-linejoin="round" stroke-linecap="round" />
<polyline points="47.5,128 38.5,129.5 28.6,137.2" fill="none" stroke="#7a7a7a" stroke-width="1.9" stroke-linejoin="round" stroke-linecap="round" />
<polyline points="54.1,128 63.1,129.5 73,137.2" fill="none" stroke="#7a7a7a" stroke-width="1.9" stroke-linejoin="round" stroke-linecap="round" />
<polyline points="48.5,131 40.5,136 35,144.6" fill="none" stroke="#7a7a7a" stroke-width="1.9" stroke-linejoin="round" stroke-linecap="round" />
<polyline points="53.1,131 61.1,136 66.6,144.6" fill="none" stroke="#7a7a7a" stroke-width="1.9" stroke-linejoin="round" stroke-linecap="round" />
<ellipse cx="50.8" cy="112.8" rx="6.1" ry="9.6" fill="#9c9c9c"/>
<ellipse cx="50.8" cy="128.6" rx="5.2" ry="6.4" fill="#9c9c9c"/>
<circle cx="48.3" cy="131.6" r="1.1" fill="#222"/><circle cx="53.4" cy="131.6" r="1.1" fill="#222"/>
<circle cx="48.6" cy="131.3" r="0.45" fill="#fff"/><circle cx="53.7" cy="131.3" r="0.45" fill="#fff"/>
<text x="53" y="161.2" font-size="11" text-anchor="middle" fill="#1a1a1a" stroke="#1a1a1a" font-weight="normal" >Self-protection</text>
<g clip-path="url(#pc)">
<rect x="91.5" y="15.6" width="109.19999999999999" height="134.20000000000002" fill="url(#pbg)"/>
<rect x="91.5" y="60" width="60" height="90" fill="url(#psh)"/>
<rect x="91.5" y="15.6" width="6" height="6" fill="#f2f2f2"/>
<rect x="135" y="15.6" width="12" height="6" fill="#e6e8ee"/>
<path d="M97.6 15.6 L136 15.6 C135.5 17.5 134.6 19 133.8 20 C132.6 22.5 131 25 128 28.8 C126 30.6 124 31.2 122.8 31.2 C121 31.4 119.5 31.4 117 30.9 C113 30.3 108.5 28.5 104.6 26.2 C102.6 24.8 101.5 23.5 101 23 C99.8 21 99 19.5 98.6 18.4 Z" fill="url(#lf)"/>
<path d="M105 20.5 C110 23.5 117 24.5 124 23.5 C128 22.8 131 21 133 19" stroke="#dcc0b4" stroke-width="1.1" fill="none" opacity="0.55"/>
<rect x="97.6" y="15.4" width="38.4" height="1.3" fill="#d9c6b4"/>
<path d="M146.2 15.6 L200.7 15.6 L200.7 25.8 C194 26.4 186 27 178 27.2 C170 27.2 162 26.8 157.1 26.2 C155.6 25.2 154.6 24.2 154.2 23.4 C153.4 22 152.8 21 152.3 20.1 C150.4 18.5 148.3 17 146.2 15.6Z" fill="url(#rf)"/>
<path d="M176 26 C184 23 192 19.5 200.7 17.5" stroke="#c0a08a" stroke-width="1.0" fill="none" opacity="0.6"/>
<path d="M170 20 C175 18.5 178 19.5 181 22" stroke="#7a5440" stroke-width="1.2" fill="none" opacity="0.35"/>
<line x1="127.6" y1="22" x2="140.4" y2="54" stroke="#c6cad2" stroke-width="0.35" />
<line x1="152.4" y1="24" x2="145.6" y2="53.8" stroke="#c6cad2" stroke-width="0.35" />
<path d="M139.6 90 C138.8 84 136.7 76 136.5 67 C136.3 60.8 138.4 57 141.6 57 C144.8 57 146.3 59.8 146.3 63.2 L146.2 68.2" fill="none" stroke="#77777d" stroke-width="6.2" stroke-linecap="round"/>
<path d="M139.6 90 C138.8 84 136.7 76 136.5 67 C136.3 60.8 138.4 57 141.6 57 C144.8 57 146.3 59.8 146.3 63.2 L146.2 68.2" fill="none" stroke="#b8b8be" stroke-width="2.6" stroke-linecap="round" transform="translate(-1.0 0)"/>
<path d="M139.6 90 C138.8 84 136.7 76 136.5 67 C136.3 60.8 138.4 57 141.6 57 C144.8 57 146.3 59.8 146.3 63.2 L146.2 68.2" fill="none" stroke="#e4e4e8" stroke-width="0.9" stroke-linecap="round" transform="translate(-1.9 0)"/>
<rect x="136.8" y="84" width="6.4" height="8.5" fill="url(#hk)"/>
<path d="M115.6 98.6 L164.9 98.6 L163.6 141 C158 145 122 145 117.4 141 Z" fill="url(#cyl)"/>
<g clip-path="url(#cb)" fill="none" stroke-linecap="round">
<line x1="136" y1="104" x2="142" y2="118" stroke="#5a3c34" stroke-width="1.2" />
<line x1="137" y1="114" x2="143" y2="128" stroke="#4a302a" stroke-width="1.1" />
<line x1="136.5" y1="124" x2="142.5" y2="138" stroke="#5a3c34" stroke-width="1.1" />
<line x1="139" y1="102" x2="144" y2="112" stroke="#c8a898" stroke-width="0.9" />
<line x1="138" y1="120" x2="143.5" y2="131" stroke="#c0a090" stroke-width="0.9" />
<line x1="122.5" y1="118" x2="123.5" y2="124" stroke="#c8b040" stroke-width="1.4" />
</g>
<path d="M117.4 140.5 C122 144.8 158 144.8 163.6 140.5 L163.6 141.5 C158 146 122 146 117.4 141.5Z" fill="#6a6a72" opacity="0.6"/>
<ellipse cx="140.25" cy="98.6" rx="24.7" ry="3.4" fill="#8e8e96"/>
<ellipse cx="140.25" cy="98.1" rx="24.3" ry="2.9" fill="#c4c4cb"/>
<ellipse cx="140.25" cy="97.7" rx="21" ry="2.1" fill="#dcdce0"/>
<rect x="134.6" y="92.2" width="11" height="5.8" fill="url(#nut)"/>
</g>
<text x="155.6" y="38.6" font-size="10.8" text-anchor="start" fill="#111" stroke="#111" font-weight="normal" >9.2 mg</text>
<text x="168.8" y="145.2" font-size="10.5" text-anchor="start" fill="#111" stroke="#111" font-weight="normal" >1 kg</text>
<polygon points="156.2,52.9 173.5,63.3 177.6,56.2 183.2,64.3 194.4,52.6 192.6,65.2 202.1,64.3 198.2,70 209.2,73.3 199.2,77.8 208.7,84.7 196.2,83.4 198.5,94.4 189.6,86.4 185.3,96 179,86.6 172,96.5 170,87 163.8,88.3 164.5,82 152.6,80.5 162.5,75 154.1,67.2 166.5,67" fill="#f4ee2c" stroke="#3f4f6e" stroke-width="0.9" stroke-linejoin="miter"/>
<text x="178.6" y="77.6" font-size="10.6" text-anchor="middle" fill="#ee3322" stroke="#ee3322" font-weight="normal" >110kX</text>
<rect x="626.5" y="382" width="16" height="98" fill="url(#rod)"/>
<line x1="635.5" y1="382" x2="635.5" y2="478" stroke="#b8b8b8" stroke-width="0.8" />
<text x="635.8" y="372" font-size="9.6" text-anchor="middle" fill="#c4682c" stroke="#c4682c" font-weight="bold" >Force Sensor</text>
<rect x="627" y="375.5" width="17.4" height="6.6" fill="#fff" stroke="#d4864c" stroke-width="0.9"/>
<line x1="605.3" y1="382.3" x2="626.5" y2="382.3" stroke="#222" stroke-width="1" />
<text x="613.4" y="434.3" font-size="9.4" text-anchor="middle" fill="#111" stroke="#111" font-weight="bold" >L</text>
<line x1="613.6" y1="386.5" x2="613.6" y2="425.5" stroke="#111" stroke-width="0.9" />
<path d="M613.6 382.6L611.4 387.2L615.8 387.2Z" fill="#111"/>
<line x1="613.6" y1="437.5" x2="613.6" y2="476.5" stroke="#111" stroke-width="0.9" />
<path d="M613.6 480.4L611.4 475.8L615.8 475.8Z" fill="#111"/>
<line x1="603.2" y1="480.9" x2="655.9" y2="480.9" stroke="#8a8a8a" stroke-width="1.1" />
<text x="646" y="434" font-size="9.4" text-anchor="middle" fill="#111" stroke="#111" font-weight="bold" >H</text>
<line x1="646.2" y1="480.5" x2="646.2" y2="440.5" stroke="#555" stroke-width="1" />
<path d="M646.2 436.2L644 441L648.4 441Z" fill="#222"/>
<text x="650.2" y="453.8" font-size="9.4" text-anchor="start" fill="#111" stroke="#111" font-weight="bold" >Lifting</text>
<text x="650.2" y="464.8" font-size="9.4" text-anchor="start" fill="#111" stroke="#111" font-weight="bold" >height</text>
<circle cx="635.5" cy="478.6" r="4.6" fill="#6e6e6e"/>
<circle cx="635.5" cy="478.4" r="2.2" fill="#fff"/>
<path d="M626.2 480.4 L644.8 480.4 Q646 480.4 646.3 481.6 L649 498.5 Q649.4 500.9 647 500.9 L624 500.9 Q621.6 500.9 622 498.5 L624.7 481.6 Q625 480.4 626.2 480.4Z" fill="#6e6e6e"/>
<text x="638.7" y="513.2" font-size="9.6" text-anchor="middle" fill="#b3202e" stroke="#b3202e" font-weight="bold" >50kX loading</text></svg>
</body></html>
